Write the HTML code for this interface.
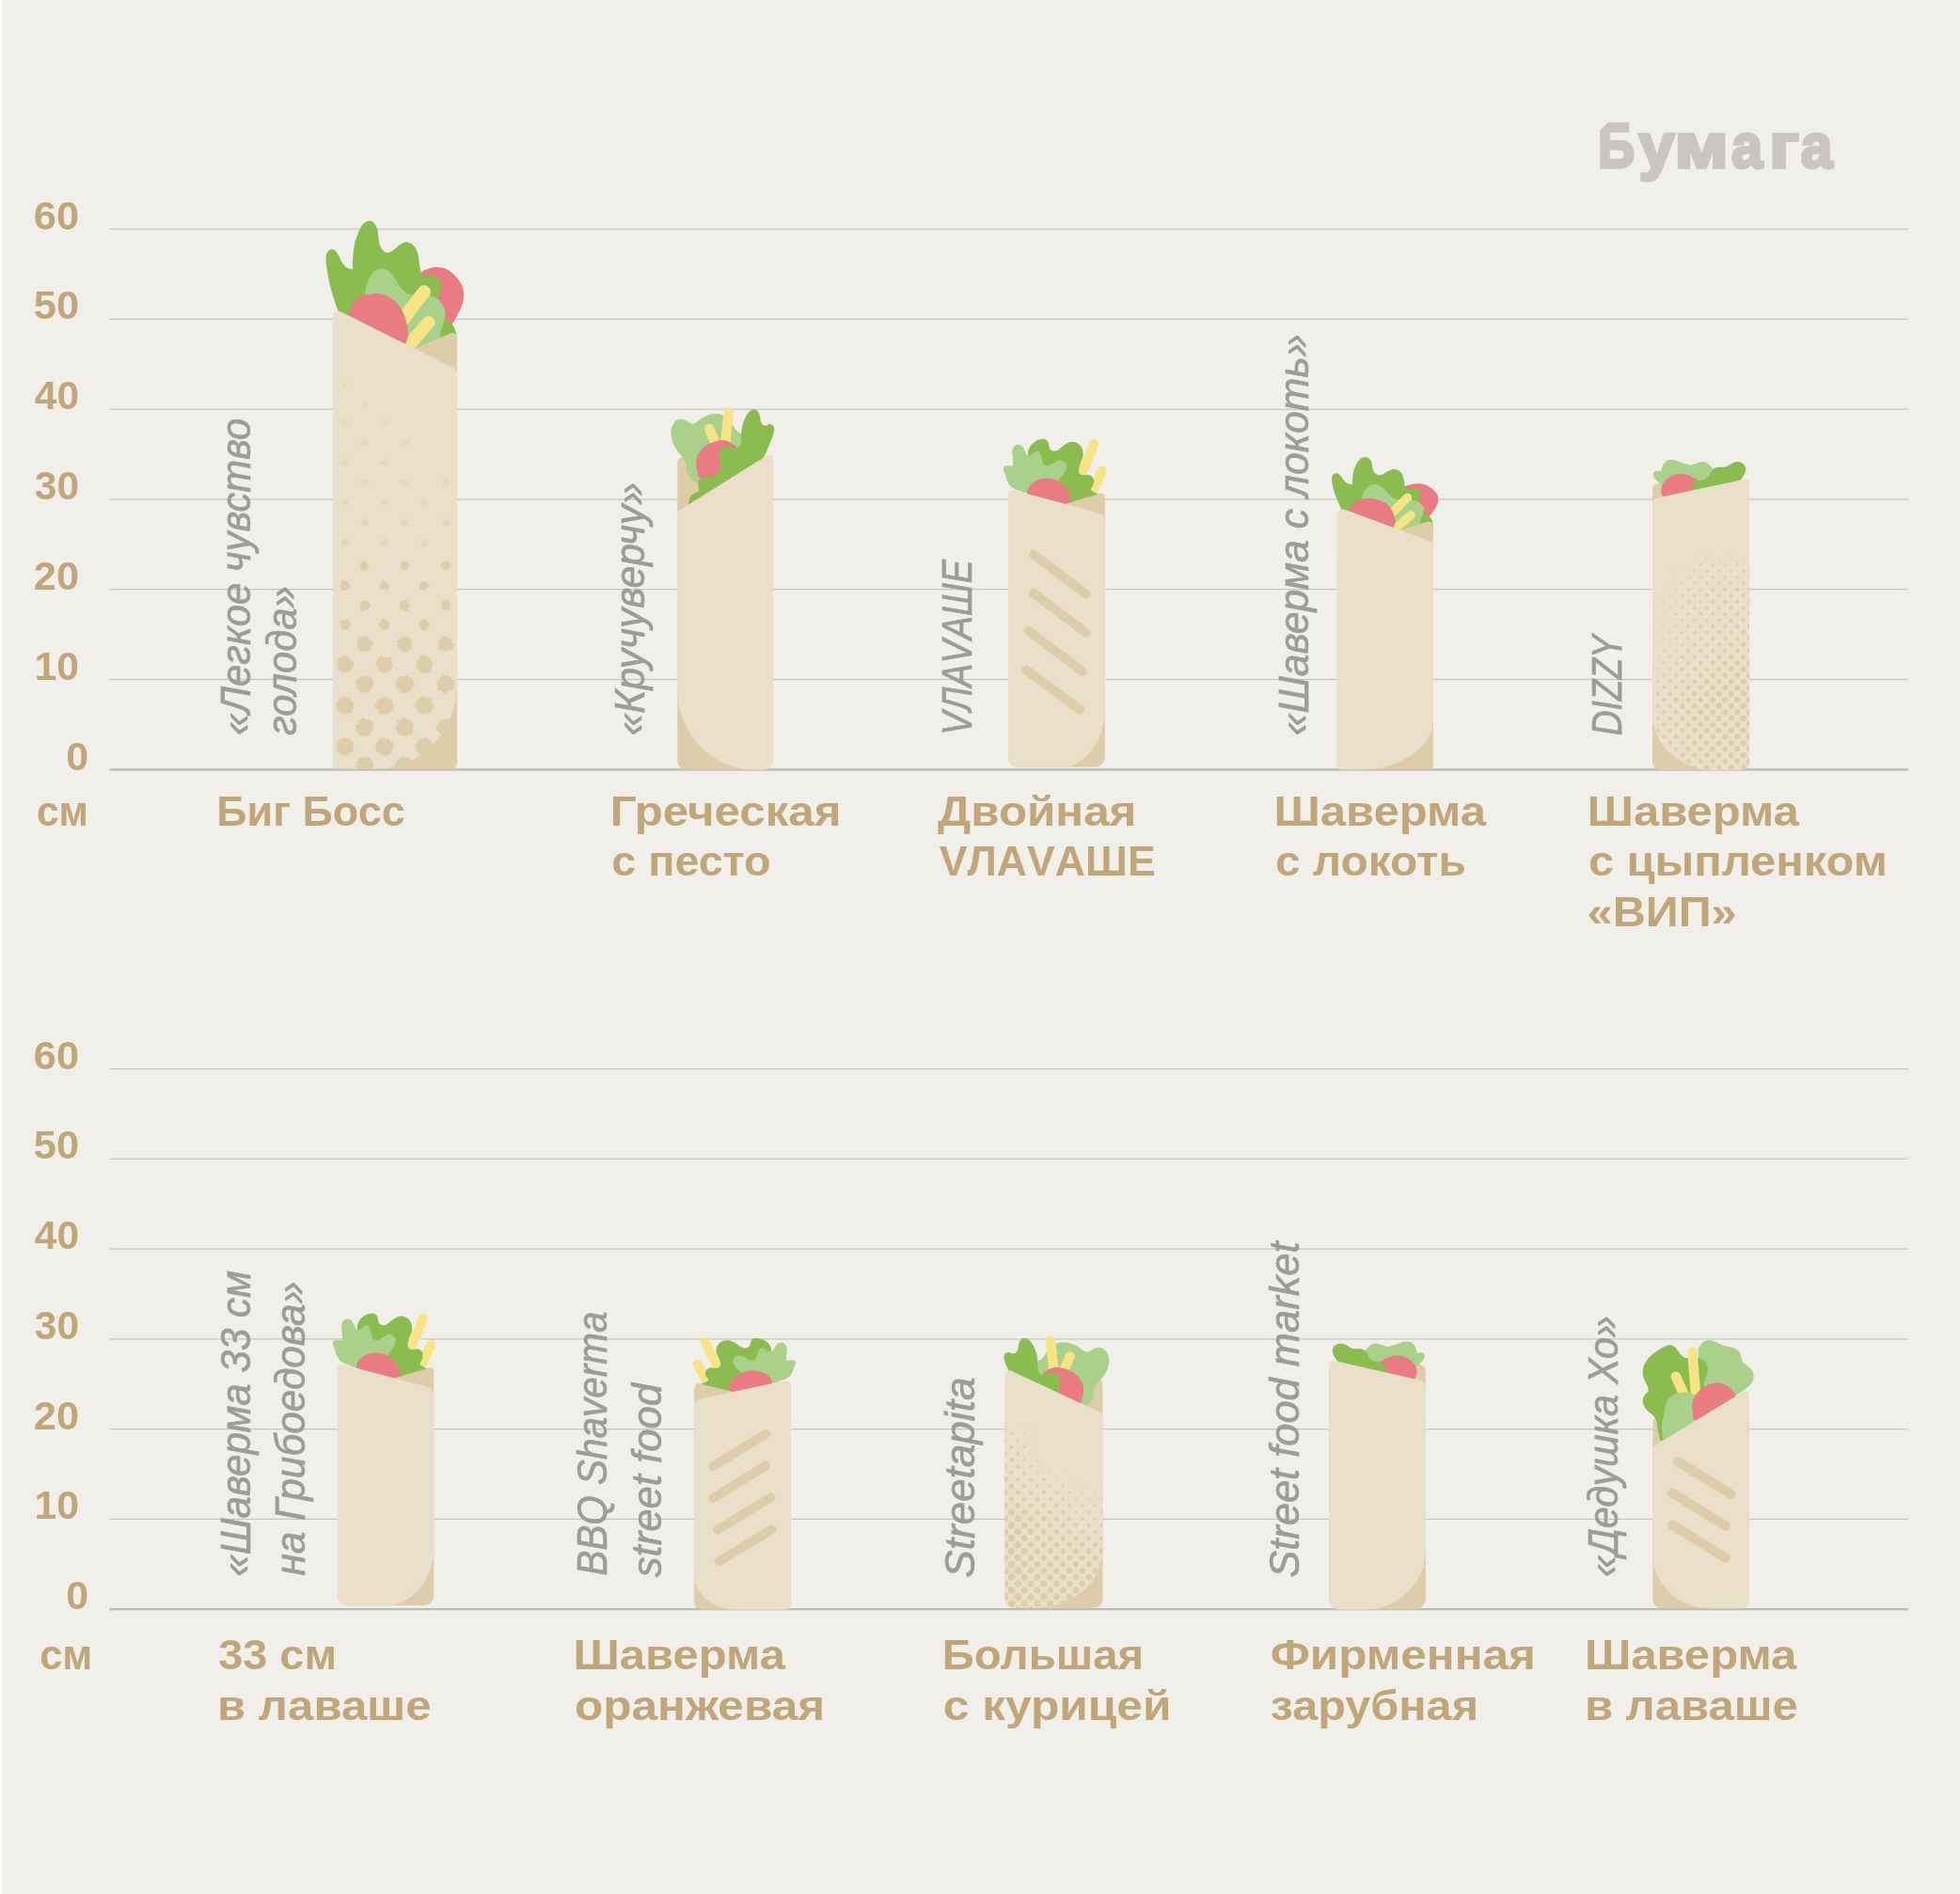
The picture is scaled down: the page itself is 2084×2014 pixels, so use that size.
<!DOCTYPE html>
<html><head><meta charset="utf-8"><title>Шаверма</title>
<style>html,body{margin:0;padding:0;background:#f1efea}body{width:2084px;height:2014px;position:relative;overflow:hidden;font-family:"Liberation Sans",sans-serif}svg text{font-family:"Liberation Sans",sans-serif}</style>
</head><body>
<svg width="2084" height="2014" viewBox="0 0 2084 2014" style="position:absolute;left:0;top:0">
<defs><filter id="rough" x="-5%" y="-5%" width="110%" height="110%"><feTurbulence type="fractalNoise" baseFrequency="0.35" numOctaves="2" seed="3" result="n"/><feDisplacementMap in="SourceGraphic" in2="n" scale="5" xChannelSelector="R" yChannelSelector="G"/></filter></defs>
<rect x="0" y="0" width="2084" height="2014" fill="#f1efea"/>
<rect x="0" y="0" width="2" height="2014" fill="#ffffff"/>
<rect x="116.6" y="243.00" width="1912.3" height="1.25" fill="#c8c6c1"/>
<rect x="116.6" y="338.78" width="1912.3" height="1.25" fill="#c8c6c1"/>
<rect x="116.6" y="434.56" width="1912.3" height="1.25" fill="#c8c6c1"/>
<rect x="116.6" y="530.34" width="1912.3" height="1.25" fill="#c8c6c1"/>
<rect x="116.6" y="626.12" width="1912.3" height="1.25" fill="#c8c6c1"/>
<rect x="116.6" y="721.90" width="1912.3" height="1.25" fill="#c8c6c1"/>
<rect x="116.6" y="1135.98" width="1912.3" height="1.25" fill="#c8c6c1"/>
<rect x="116.6" y="1231.74" width="1912.3" height="1.25" fill="#c8c6c1"/>
<rect x="116.6" y="1327.50" width="1912.3" height="1.25" fill="#c8c6c1"/>
<rect x="116.6" y="1423.26" width="1912.3" height="1.25" fill="#c8c6c1"/>
<rect x="116.6" y="1519.02" width="1912.3" height="1.25" fill="#c8c6c1"/>
<rect x="116.6" y="1614.78" width="1912.3" height="1.25" fill="#c8c6c1"/>
<rect x="116.6" y="817.2" width="1912.3" height="2.4" fill="#bdbbb6"/>
<rect x="116.6" y="1710" width="1912.3" height="2.3" fill="#bdbbb6"/>
<g>
<path d="M447.8 290.2C449.5 287.1 452.3 287 455.2 286C458 285 461.3 284 464.7 284.1C468 284.2 471.9 284.9 475.2 286.5C478.6 288.2 482.1 291.1 484.7 293.9C487.4 296.7 489.7 300.3 491.1 303.4C492.5 306.6 493.1 309.6 493.2 312.9C493.3 316.3 492.7 320 491.6 323.5C490.5 327 488.7 330.5 486.8 334C485 337.6 483.7 341.4 480.5 344.6C477.3 347.8 472.6 352.7 467.8 353.1C463.1 353.4 455.9 351.3 452 346.7C448.1 342.1 445.8 332.6 444.6 325.6C443.4 318.6 444.1 310.4 444.6 304.5C445.1 298.6 446 293.3 447.8 290.2Z" fill="#e97b82"/><path d="M360.7 334.6C359.1 329.8 357.6 325.7 355.9 320.3C354.2 314.9 352.1 308.5 350.6 302.4C349.2 296.2 347.9 288.3 347.2 283.4C346.6 278.4 346.4 275.5 346.7 272.8C347 270.1 347.9 268.3 349 267C350.1 265.7 351.9 264.8 353.3 264.9C354.7 265 356.1 265.8 357.5 267.5C358.9 269.2 360.4 272.6 361.7 274.9C363 277.2 364.1 279.6 365.4 281.2C366.7 282.9 368 284.1 369.6 284.9C371.2 285.8 373.2 285.9 374.9 286.3C375 282.5 374.8 279.3 375.1 274.9C375.5 270.5 376 264.9 377 260.1C378 255.4 379.7 250.1 381.2 246.4C382.8 242.7 384.6 239.9 386.5 238C388.5 236 390.9 234.9 392.9 234.8C394.8 234.7 396.7 235.8 398.1 237.4C399.5 239 400.6 241.6 401.3 244.3C402 247 402 250.8 402.6 253.8C403.1 256.8 403.5 260 404.5 262.2C405.5 264.5 407.3 266.5 408.7 267.5C410.1 268.6 411.3 268.8 412.9 268.6C414.5 268.3 416.3 267.3 418.2 265.9C420.1 264.6 422.4 262.1 424.5 260.7C426.7 259.2 428.8 257.8 430.9 257.5C433 257.2 435.3 257.8 437.2 259.1C439.1 260.3 441.2 262.4 442.5 264.9C443.8 267.3 444.4 270.4 445.1 273.9C445.8 277.3 446 282.3 446.7 285.5C447.4 288.6 448.3 291.4 449.4 292.9C450.4 294.4 451.7 294.4 453.1 294.4C454.4 294.5 455.9 293.4 457.3 293.1C458.7 292.8 459.9 292.1 461.5 292.7C463.1 293.2 465.5 294.8 466.8 296.6C468.1 298.4 469.2 300.9 469.4 303.4C469.6 306 468.5 309.7 467.8 311.9C467.1 314.1 466.1 315 465.2 316.6C462.6 324.9 463.9 334.7 457.3 341.4C450.7 348.2 437.9 356.4 425.6 357.3C413.3 358.2 394.2 350.5 383.4 346.7C372.5 342.9 368.2 338.6 360.7 334.6Z" fill="#8bbc4f"/><path d="M465.2 358.9C466.1 356.2 466.9 353.5 467.8 350.9C468.8 348.4 469.9 345.3 471 343.5C472.1 341.8 473.3 340.5 474.7 340.4C476.1 340.3 478 341.6 479.5 343C480.9 344.4 482.2 346.6 483.1 348.8C484.1 351 484.9 353.9 485.4 356.2C485.8 358.5 485.7 360.4 485.9 362.6C485.9 366.8 485.9 371 485.9 375.2C478.1 375.2 470.3 375.2 462.6 375.2C463.4 369.8 464.3 364.3 465.2 358.9Z" fill="#8bbc4f"/><path d="M388.6 313.5C388 307.8 389.2 306 390.2 302.4C391.3 298.8 393.1 294.4 395 291.8C396.8 289.2 399.2 287.5 401.3 286.5C403.4 285.5 405.4 285.2 407.6 285.7C409.9 286.2 412.7 287.6 415 289.7C417.3 291.8 419.4 295.3 421.4 298.1C423.3 301 424.9 304.4 426.7 306.6C428.4 308.8 430.2 310.2 431.9 311.3C433.7 312.5 434.7 313.2 437.2 313.5C439.7 313.7 443.4 312.8 446.7 312.9C450.1 313 454.1 313.1 457.3 314C460.4 314.9 463.3 316.3 465.7 318.2C468.1 320.1 470.2 323.1 471.5 325.6C472.9 328.1 473.6 330.3 473.6 333C473.7 335.6 472.8 338.6 472.1 341.4C471.4 344.3 470.2 346.9 469.4 349.9C468.6 352.9 468.8 355.7 467.3 359.4C465.8 363.1 464.9 369.2 460.4 372.1C456 374.9 447.9 377.9 440.4 376.3C432.8 374.7 422.8 369.2 415 362.6C407.3 355.9 398.3 344.3 393.9 336.2C389.5 328 389.3 319.1 388.6 313.5Z" fill="#a9d18a"/><line x1="450.9" y1="310.3" x2="428.8" y2="339.3" stroke="#f7e487" stroke-width="14" stroke-linecap="round" vector-effect="non-scaling-stroke"/><line x1="455.5" y1="343" x2="434" y2="367.8" stroke="#f7e487" stroke-width="14" stroke-linecap="round" vector-effect="non-scaling-stroke"/><path d="M371.2 335.1C371.7 332.6 371.7 330.2 372.8 327.7C373.9 325.2 375.4 322.5 377.6 320.3C379.7 318.1 382.7 315.8 385.5 314.5C388.2 313.2 391.1 312.8 393.9 312.4C396.7 312 399.5 311.7 402.4 312.1C405.2 312.4 408 313.2 410.8 314.5C413.6 315.8 416.8 317.8 419.3 319.8C421.7 321.8 423.8 324.1 425.6 326.7C427.4 329.2 428.7 332.1 429.8 335.1C431 338.1 431.8 341.3 432.5 344.6C433.2 347.9 434.2 351.6 434 355.2C433.9 358.7 432.3 362.2 431.4 365.7C422.4 366.4 412.5 370.1 404.5 367.8C396.5 365.5 388.9 357.5 383.4 352C377.8 346.5 375.3 340.7 371.2 335.1Z" fill="#e97b82"/>
<path d="M354 416Q354 407 362.3 403.5L477.7 355Q486 351.5 486 360.5L486 811.6A6 6 0 0 1 480 817.6L360 817.6A6 6 0 0 1 354 811.6Z" fill="#decdaa"/>
<clipPath id="c1"><path d="M354 339Q354 327 364.7 332.4L482.4 391.4Q486 393.2 486 397.2L486 726.7A85 90.9 0 0 1 401 817.6L360 817.6A6 6 0 0 1 354 811.6Z"/></clipPath>
<path d="M354 339Q354 327 364.7 332.4L482.4 391.4Q486 393.2 486 397.2L486 726.7A85 90.9 0 0 1 401 817.6L360 817.6A6 6 0 0 1 354 811.6Z" fill="#eadfc9"/>
<g clip-path="url(#c1)"><g fill="#decdaa" filter="url(#rough)"><circle cx="366.9" cy="409" r="3.2" opacity="0.3"/><circle cx="387.8" cy="429.4" r="3.3" opacity="0.3"/><circle cx="366.9" cy="449.7" r="3.4" opacity="0.3"/><circle cx="408.7" cy="449.7" r="3.4" opacity="0.3"/><circle cx="387.8" cy="471.3" r="3.5" opacity="0.4"/><circle cx="430.3" cy="471.3" r="3.5" opacity="0.4"/><circle cx="366.9" cy="492.2" r="3.6" opacity="0.4"/><circle cx="408.7" cy="492.2" r="3.6" opacity="0.4"/><circle cx="387.8" cy="513" r="3.7" opacity="0.4"/><circle cx="430.3" cy="513" r="3.7" opacity="0.4"/><circle cx="474" cy="513" r="3.7" opacity="0.4"/><circle cx="366.9" cy="534" r="3.8" opacity="0.4"/><circle cx="408.7" cy="534" r="3.8" opacity="0.4"/><circle cx="451.2" cy="534" r="3.8" opacity="0.4"/><circle cx="387.8" cy="555.5" r="3.9" opacity="0.5"/><circle cx="430.3" cy="555.5" r="3.9" opacity="0.5"/><circle cx="474" cy="555.5" r="3.9" opacity="0.5"/><circle cx="366.9" cy="577.7" r="4" opacity="0.5"/><circle cx="408.7" cy="577.7" r="4" opacity="0.5"/><circle cx="451.2" cy="577.7" r="4" opacity="0.5"/><circle cx="387.8" cy="601.5" r="4.8"/><circle cx="430.3" cy="601.5" r="4.8"/><circle cx="474" cy="601.5" r="4.8"/><circle cx="366.9" cy="622.8" r="5.1"/><circle cx="408.7" cy="622.8" r="5.1"/><circle cx="451.2" cy="622.8" r="5.1"/><circle cx="387.8" cy="643.7" r="5.4"/><circle cx="430.3" cy="643.7" r="5.4"/><circle cx="474" cy="643.7" r="5.4"/><circle cx="366.9" cy="664" r="5.7"/><circle cx="408.7" cy="664" r="5.7"/><circle cx="451.2" cy="664" r="5.7"/><circle cx="387.8" cy="684.9" r="8.4"/><circle cx="430.3" cy="684.9" r="8.4"/><circle cx="474" cy="684.9" r="8.4"/><circle cx="366.9" cy="706.5" r="8.9"/><circle cx="408.7" cy="706.5" r="8.9"/><circle cx="451.2" cy="706.5" r="8.9"/><circle cx="387.8" cy="727.4" r="9.4"/><circle cx="430.3" cy="727.4" r="9.4"/><circle cx="474" cy="727.4" r="9.4"/><circle cx="366.9" cy="750.2" r="9.5"/><circle cx="408.7" cy="750.2" r="9.5"/><circle cx="451.2" cy="750.2" r="9.5"/><circle cx="387.8" cy="773.6" r="9.5"/><circle cx="430.3" cy="773.6" r="9.5"/><circle cx="474" cy="773.6" r="9.5"/><circle cx="366.9" cy="794.6" r="9.5"/><circle cx="408.7" cy="794.6" r="9.5"/><circle cx="451.2" cy="794.6" r="9.5"/><circle cx="387.8" cy="814.2" r="9.5"/><circle cx="430.3" cy="814.2" r="9.5"/><circle cx="474" cy="814.2" r="9.5"/></g></g>
</g>
<path d="M720.2 492Q720.2 486 726.2 486L816.1 486Q822.1 486 822.1 492L822.1 808A10.6 10.6 0 0 1 811.5 818.6L730.8 818.6A10.6 10.6 0 0 1 720.2 808Z" fill="#decdaa"/>
<path d="M742.4 512.9C738.7 512.3 737.4 510.9 735.6 509.5C733.8 508.1 732.4 506.4 731.4 504.5C730.4 502.5 730 499.8 729.7 497.7C729.3 495.6 729.8 493.6 729.3 491.8C728.7 490 727.5 488.4 726.3 486.7C725.1 485 723.6 483.8 722.1 481.7C720.5 479.5 718.4 476.7 717 474.1C715.7 471.4 714.6 468.4 714.1 465.6C713.5 462.8 713.3 459.7 713.6 457.2C714 454.6 715.1 452.2 716.2 450.4C717.3 448.6 719 447.4 720.4 446.6C721.8 445.8 723.2 445.7 724.6 445.8C726 445.8 727.4 446.4 728.9 447C730.3 447.7 731.8 449 733.1 449.6C734.3 450.2 735.2 450.7 736.5 450.6C737.7 450.4 738.8 449.8 740.7 448.7C742.5 447.6 745.2 445.4 747.4 444.1C749.7 442.8 751.9 441.6 754.2 440.9C756.4 440.2 758.8 439.9 760.9 439.8C763.1 439.8 765 440.1 766.9 440.7C768.7 441.3 770.2 442.3 771.9 443.6C773.6 445 775.5 446.9 777 448.7C778.5 450.5 779.5 452.9 780.8 454.6C782.1 456.4 783.4 458.1 784.6 459.3C785.8 460.4 786.8 459.5 788 461.4C789.1 463.3 792.2 464.9 791.4 470.7C790.5 476.4 788.5 489 782.9 496C777.3 503.1 764.3 510.1 757.6 512.9C750.8 515.7 746 513.5 742.4 512.9Z" fill="#a9d18a"/><line x1="754.4" y1="455.9" x2="761.8" y2="474.1" stroke="#f7e487" stroke-width="10.5" stroke-linecap="round" vector-effect="non-scaling-stroke"/><line x1="774.6" y1="438.3" x2="771.2" y2="472.4" stroke="#f7e487" stroke-width="10.5" stroke-linecap="round" vector-effect="non-scaling-stroke"/><path d="M744.9 508.3C740.8 507 742.3 503.5 741.5 501.1C740.7 498.6 740 496.2 740 493.5C740 490.8 740.6 487.6 741.5 485C742.5 482.5 743.9 480.3 745.7 478.3C747.6 476.2 750.1 474.3 752.5 472.8C754.9 471.3 757.6 470.2 760.1 469.4C762.6 468.6 765.3 468.1 767.7 468.1C770.1 468.1 772.5 468.7 774.5 469.4C776.4 470.1 778.1 471.2 779.5 472.4C780.9 473.5 782.3 472.2 782.9 476.2C783.5 480.1 785.7 490.6 782.9 496C780.1 501.4 772.3 506.6 766 508.7C759.7 510.7 749 509.5 744.9 508.3Z" fill="#e97b82"/><path d="M732.2 536.1C732.4 534.6 732.2 533 732.7 531.5C733.1 530 733.8 528.4 734.8 527.3C735.7 526.1 736.9 525.5 738.1 524.7C739.4 524 741.5 523.5 742.4 522.6C743.2 521.8 743.2 521 743.2 519.7C743.2 518.3 742.3 516 742.2 514.6C742.1 513.2 742.3 512.2 742.8 511.2C743.3 510.2 744 509.4 745.3 508.7C746.7 508 748.9 507.4 750.8 507C752.7 506.5 754.9 506.5 756.7 506C758.6 505.4 760.4 504.7 761.8 503.6C763.2 502.5 764.5 500.9 765.2 499.4C765.9 497.8 766 496 766 494.3C766 492.6 765.4 490.9 765.2 489.3C765 487.6 764.7 485.9 764.7 484.2C764.8 482.5 765 480.6 765.6 479.1C766.2 477.6 767.4 476.2 768.5 475.3C769.7 474.5 771.2 474.1 772.8 474.1C774.3 474.1 776.3 474.9 777.8 475.3C779.4 475.8 780.8 476.8 782.1 476.8C783.3 476.8 784.5 476.2 785.4 475.3C786.4 474.4 787.1 473.1 787.6 471.5C788 469.9 787.9 467.6 788 465.6C788.1 463.6 787.9 462.1 788.2 459.7C788.5 457.3 788.9 454.1 789.7 451.2C790.5 448.4 791.8 445.1 793 442.8C794.3 440.5 795.8 438.6 797.3 437.3C798.7 436 800.5 435.2 801.9 435.2C803.3 435.2 804.7 436.2 805.7 437.3C806.7 438.4 807.3 440.2 807.8 442C808.4 443.7 808.4 446.3 808.9 447.9C809.5 449.5 810.3 450.9 811.2 451.7C812.1 452.4 813.4 452.7 814.6 452.5C815.8 452.4 817.2 450.8 818.4 450.8C819.6 450.8 820.9 451.6 821.8 452.5C822.6 453.4 823.2 454.7 823.3 456.3C823.3 457.9 822.9 460 822.2 462.2C821.5 464.5 820.3 467.2 819.2 469.8C818.2 472.5 816.7 476.2 815.8 478.3C815 480.4 814.9 481.1 814.2 482.5C813.5 483.9 812.5 485.3 811.6 486.7C811.6 492.6 823.4 494.5 811.6 504.5C799.8 514.5 753.9 541.4 740.7 546.7C727.4 552 735 539.7 732.2 536.1Z" fill="#8bbc4f"/>
<path d="M720.2 546Q720.2 544 721.9 542.9L813.6 485.5Q822.1 480.2 822.1 490.2L822.1 808A10.6 10.6 0 0 1 811.5 818.6L802.7 818.6A82.5 85.9 0 0 1 720.2 732.7Z" fill="#eadfc9"/>
<line x1="1163.2" y1="472.1" x2="1150.5" y2="503.2" stroke="#f7e487" stroke-width="10" stroke-linecap="round" vector-effect="non-scaling-stroke"/><line x1="1171.6" y1="500.4" x2="1161.9" y2="521.8" stroke="#f7e487" stroke-width="10" stroke-linecap="round" vector-effect="non-scaling-stroke"/><path d="M1167.8 525.6C1162.3 528.5 1156.3 532.3 1151.4 534.5C1146.4 536.6 1144.9 540.1 1137.8 538.7C1130.8 537.3 1116.4 532.3 1109.1 526C1101.8 519.7 1096.6 507.7 1093.9 500.7C1091.2 493.6 1093.1 487.4 1093.1 483.8C1093 480.1 1093 480.4 1093.5 478.7C1094 477 1094.8 475.2 1096 473.6C1097.2 472.1 1099.1 470.5 1100.7 469.4C1102.3 468.4 1104.1 467.7 1105.7 467.3C1107.4 466.9 1109.4 466.5 1110.8 466.9C1112.2 467.3 1113.4 468.6 1114.2 469.8C1115 471.1 1115 473.2 1115.5 474.5C1115.9 475.8 1115.9 477 1116.7 477.9C1117.5 478.7 1118.8 479.4 1120.1 479.6C1121.4 479.7 1122.8 479.5 1124.3 478.7C1125.9 477.9 1127.7 476.2 1129.4 474.9C1131.1 473.7 1132.8 472.1 1134.5 471.3C1136.1 470.4 1137.8 469.9 1139.5 469.8C1141.2 469.7 1143 470 1144.6 470.7C1146.1 471.4 1147.7 472.6 1148.8 474.1C1149.9 475.5 1150.9 477.7 1151.4 479.6C1151.8 481.5 1151.7 483.5 1151.4 485.5C1151 487.4 1149.9 489.6 1149.2 491.4C1148.6 493.2 1147.9 494.8 1147.6 496.5C1147.2 498.1 1146.8 500.1 1147.1 501.5C1147.4 502.9 1148.2 504.1 1149.2 504.7C1150.3 505.4 1152 505.3 1153.5 505.3C1154.9 505.3 1156.7 504.5 1158.1 504.9C1159.5 505.3 1161.1 506.3 1161.9 507.4C1162.8 508.6 1163.2 510.1 1163.2 511.7C1163.2 513.2 1162.5 515.3 1161.9 516.7C1161.3 518.1 1159.7 519 1159.8 520.1C1159.9 521.2 1161 522.1 1162.3 523.1C1163.7 524 1166 524.7 1167.8 525.6Z" fill="#8bbc4f"/><path d="M1092.2 524.3C1086.6 523.6 1086.5 522.8 1083.8 521.8C1081.1 520.8 1078.2 520 1076.2 518.4C1074.1 516.9 1072.7 514.8 1071.5 512.5C1070.3 510.2 1069.8 507.2 1069 504.9C1068.2 502.6 1067 500.5 1066.9 499C1066.8 497.5 1067.3 496.7 1068.2 496C1069 495.4 1070.7 495.3 1072 495.2C1073.2 495.1 1074.9 496.1 1075.8 495.6C1076.6 495.1 1077.1 493.9 1077.2 492.2C1077.3 490.5 1076.7 487.7 1076.6 485.5C1076.5 483.2 1075.9 480.6 1076.4 478.7C1076.8 476.8 1078 475.1 1079.1 474.1C1080.3 473.1 1082 472.7 1083.4 472.8C1084.7 472.9 1086.1 473.8 1087.2 474.9C1088.2 476 1088.9 478.2 1089.7 479.6C1090.5 481 1091 482.5 1091.8 483.4C1092.7 484.2 1093.8 484.8 1094.8 484.6C1095.7 484.5 1096.6 483.3 1097.7 482.5C1098.8 481.7 1100.3 480.3 1101.5 480C1102.7 479.6 1104 479.6 1104.9 480.4C1105.8 481.2 1106.4 483.1 1107 484.6C1107.6 486.2 1107.8 488.1 1108.3 489.7C1108.8 491.2 1109.1 493 1110 493.9C1110.9 494.8 1112.4 495.3 1113.8 495.2C1115.2 495.1 1116.9 494.2 1118.4 493.5C1119.9 492.8 1121.2 491.7 1122.6 491C1124 490.3 1125.5 489.3 1126.9 489.3C1128.3 489.2 1129.9 489.7 1131.1 490.5C1132.2 491.4 1133.4 492.8 1133.8 494.3C1134.1 495.9 1133.8 498.1 1133.2 499.8C1132.6 501.6 1131.4 503.1 1130.2 504.9C1129 506.7 1128.1 507.3 1126 510.8C1123.9 514.3 1123.2 523.8 1117.6 526C1111.9 528.3 1097.9 525 1092.2 524.3Z" fill="#a9d18a"/><path d="M1091.8 524.3C1092.5 522.4 1092.7 520.3 1093.9 518.4C1095.1 516.5 1097 514.4 1099 512.9C1101 511.4 1103.2 510.2 1105.7 509.5C1108.3 508.8 1111.4 508.6 1114.2 508.7C1117 508.8 1120 509.3 1122.6 510.4C1125.3 511.4 1128.1 513.1 1130.2 515C1132.4 516.9 1134.4 519.5 1135.7 521.8C1137.1 524 1137.8 526.4 1138.3 528.5C1138.7 530.7 1138.3 532.5 1138.3 534.5C1131.4 537.3 1124.5 542.9 1117.6 542.9C1110.6 542.9 1100.7 537.6 1096.5 534.5C1092.2 531.4 1093.4 527.7 1091.8 524.3Z" fill="#e97b82"/>
<path d="M1072 561.4Q1072 554.4 1078.7 552.4L1168.1 525Q1174.8 523 1174.8 530L1174.8 805.5A10 10 0 0 1 1164.8 815.5L1082 815.5A10 10 0 0 1 1072 805.5Z" fill="#decdaa"/>
<path d="M1072 526.8Q1072 519.8 1078.8 521.6L1167.1 545.1Q1174.8 547.2 1174.8 555.2L1174.8 754.3A46 61.2 0 0 1 1128.8 815.5L1082 815.5A10 10 0 0 1 1072 805.5Z" fill="#eadfc9"/>
<line x1="1098.9" y1="589.7" x2="1154.8" y2="631.8" stroke="#decdaa" stroke-width="9.8" stroke-linecap="round"/><line x1="1098.9" y1="630.6" x2="1154.8" y2="672.9" stroke="#decdaa" stroke-width="9.8" stroke-linecap="round"/><line x1="1093.6" y1="670.9" x2="1150.5" y2="713.7" stroke="#decdaa" stroke-width="9.8" stroke-linecap="round"/><line x1="1091.3" y1="712.7" x2="1148.4" y2="754.6" stroke="#decdaa" stroke-width="9.8" stroke-linecap="round"/>
<g transform="matrix(0.7735 0 0 0.5720 1147.89 351.64)"><path d="M447.8 290.2C449.5 287.1 452.3 287 455.2 286C458 285 461.3 284 464.7 284.1C468 284.2 471.9 284.9 475.2 286.5C478.6 288.2 482.1 291.1 484.7 293.9C487.4 296.7 489.7 300.3 491.1 303.4C492.5 306.6 493.1 309.6 493.2 312.9C493.3 316.3 492.7 320 491.6 323.5C490.5 327 488.7 330.5 486.8 334C485 337.6 483.7 341.4 480.5 344.6C477.3 347.8 472.6 352.7 467.8 353.1C463.1 353.4 455.9 351.3 452 346.7C448.1 342.1 445.8 332.6 444.6 325.6C443.4 318.6 444.1 310.4 444.6 304.5C445.1 298.6 446 293.3 447.8 290.2Z" fill="#e97b82"/><path d="M360.7 334.6C359.1 329.8 357.6 325.7 355.9 320.3C354.2 314.9 352.1 308.5 350.6 302.4C349.2 296.2 347.9 288.3 347.2 283.4C346.6 278.4 346.4 275.5 346.7 272.8C347 270.1 347.9 268.3 349 267C350.1 265.7 351.9 264.8 353.3 264.9C354.7 265 356.1 265.8 357.5 267.5C358.9 269.2 360.4 272.6 361.7 274.9C363 277.2 364.1 279.6 365.4 281.2C366.7 282.9 368 284.1 369.6 284.9C371.2 285.8 373.2 285.9 374.9 286.3C375 282.5 374.8 279.3 375.1 274.9C375.5 270.5 376 264.9 377 260.1C378 255.4 379.7 250.1 381.2 246.4C382.8 242.7 384.6 239.9 386.5 238C388.5 236 390.9 234.9 392.9 234.8C394.8 234.7 396.7 235.8 398.1 237.4C399.5 239 400.6 241.6 401.3 244.3C402 247 402 250.8 402.6 253.8C403.1 256.8 403.5 260 404.5 262.2C405.5 264.5 407.3 266.5 408.7 267.5C410.1 268.6 411.3 268.8 412.9 268.6C414.5 268.3 416.3 267.3 418.2 265.9C420.1 264.6 422.4 262.1 424.5 260.7C426.7 259.2 428.8 257.8 430.9 257.5C433 257.2 435.3 257.8 437.2 259.1C439.1 260.3 441.2 262.4 442.5 264.9C443.8 267.3 444.4 270.4 445.1 273.9C445.8 277.3 446 282.3 446.7 285.5C447.4 288.6 448.3 291.4 449.4 292.9C450.4 294.4 451.7 294.4 453.1 294.4C454.4 294.5 455.9 293.4 457.3 293.1C458.7 292.8 459.9 292.1 461.5 292.7C463.1 293.2 465.5 294.8 466.8 296.6C468.1 298.4 469.2 300.9 469.4 303.4C469.6 306 468.5 309.7 467.8 311.9C467.1 314.1 466.1 315 465.2 316.6C462.6 324.9 463.9 334.7 457.3 341.4C450.7 348.2 437.9 356.4 425.6 357.3C413.3 358.2 394.2 350.5 383.4 346.7C372.5 342.9 368.2 338.6 360.7 334.6Z" fill="#8bbc4f"/><path d="M465.2 358.9C466.1 356.2 466.9 353.5 467.8 350.9C468.8 348.4 469.9 345.3 471 343.5C472.1 341.8 473.3 340.5 474.7 340.4C476.1 340.3 478 341.6 479.5 343C480.9 344.4 482.2 346.6 483.1 348.8C484.1 351 484.9 353.9 485.4 356.2C485.8 358.5 485.7 360.4 485.9 362.6C485.9 366.8 485.9 371 485.9 375.2C478.1 375.2 470.3 375.2 462.6 375.2C463.4 369.8 464.3 364.3 465.2 358.9Z" fill="#8bbc4f"/><path d="M388.6 313.5C388 307.8 389.2 306 390.2 302.4C391.3 298.8 393.1 294.4 395 291.8C396.8 289.2 399.2 287.5 401.3 286.5C403.4 285.5 405.4 285.2 407.6 285.7C409.9 286.2 412.7 287.6 415 289.7C417.3 291.8 419.4 295.3 421.4 298.1C423.3 301 424.9 304.4 426.7 306.6C428.4 308.8 430.2 310.2 431.9 311.3C433.7 312.5 434.7 313.2 437.2 313.5C439.7 313.7 443.4 312.8 446.7 312.9C450.1 313 454.1 313.1 457.3 314C460.4 314.9 463.3 316.3 465.7 318.2C468.1 320.1 470.2 323.1 471.5 325.6C472.9 328.1 473.6 330.3 473.6 333C473.7 335.6 472.8 338.6 472.1 341.4C471.4 344.3 470.2 346.9 469.4 349.9C468.6 352.9 468.8 355.7 467.3 359.4C465.8 363.1 464.9 369.2 460.4 372.1C456 374.9 447.9 377.9 440.4 376.3C432.8 374.7 422.8 369.2 415 362.6C407.3 355.9 398.3 344.3 393.9 336.2C389.5 328 389.3 319.1 388.6 313.5Z" fill="#a9d18a"/><line x1="450.9" y1="310.3" x2="428.8" y2="339.3" stroke="#f7e487" stroke-width="9.2" stroke-linecap="round" vector-effect="non-scaling-stroke"/><line x1="455.5" y1="343" x2="434" y2="367.8" stroke="#f7e487" stroke-width="9.2" stroke-linecap="round" vector-effect="non-scaling-stroke"/><path d="M371.2 335.1C371.7 332.6 371.7 330.2 372.8 327.7C373.9 325.2 375.4 322.5 377.6 320.3C379.7 318.1 382.7 315.8 385.5 314.5C388.2 313.2 391.1 312.8 393.9 312.4C396.7 312 399.5 311.7 402.4 312.1C405.2 312.4 408 313.2 410.8 314.5C413.6 315.8 416.8 317.8 419.3 319.8C421.7 321.8 423.8 324.1 425.6 326.7C427.4 329.2 428.7 332.1 429.8 335.1C431 338.1 431.8 341.3 432.5 344.6C433.2 347.9 434.2 351.6 434 355.2C433.9 358.7 432.3 362.2 431.4 365.7C422.4 366.4 412.5 370.1 404.5 367.8C396.5 365.5 388.9 357.5 383.4 352C377.8 346.5 375.3 340.7 371.2 335.1Z" fill="#e97b82"/></g>
<path d="M1421.7 591Q1421.7 584 1428.4 582L1517.1 555Q1523.8 553 1523.8 560L1523.8 812.9A5.3 5.3 0 0 1 1518.5 818.2L1427 818.2A5.3 5.3 0 0 1 1421.7 812.9Z" fill="#decdaa"/>
<path d="M1421.7 548.8Q1421.7 538.8 1431.1 542.3L1521 575.4Q1523.8 576.4 1523.8 579.4L1523.8 765.3A76.7 52.9 0 0 1 1447.1 818.2L1427 818.2A5.3 5.3 0 0 1 1421.7 812.9Z" fill="#eadfc9"/>
<path d="M1757 521Q1757 514 1764 514L1852.9 514Q1859.9 514 1859.9 521L1859.9 810.3A8.5 8.5 0 0 1 1851.4 818.8L1765.5 818.8A8.5 8.5 0 0 1 1757 810.3Z" fill="#decdaa"/>
<path d="M1767.2 515.7C1765.6 513.9 1764.3 513.6 1762.9 512.4C1761.6 511.1 1760 509.5 1759.1 508.1C1758.3 506.7 1757.8 505 1757.9 503.9C1757.9 502.8 1758.7 501.9 1759.6 501.4C1760.4 500.9 1761.9 500.8 1762.9 500.8C1764 500.8 1765.3 501.8 1765.9 501.4C1766.5 500.9 1766.3 499.3 1766.7 498C1767.2 496.7 1767.5 495.1 1768.4 493.8C1769.3 492.4 1770.8 490.8 1772.2 490C1773.7 489.2 1775.6 488.9 1777.3 488.9C1779 488.8 1780.5 489.2 1782.4 489.7C1784.2 490.3 1786.3 491.4 1788.3 492.1C1790.2 492.8 1792.5 493.6 1794.2 494C1795.9 494.3 1796.9 494.7 1798.4 494.5C1800 494.3 1801.8 493.3 1803.5 492.8C1805.2 492.2 1806.9 491.5 1808.5 491.2C1810.2 491 1811.8 491.1 1813.2 491.5C1814.6 491.9 1815.9 492.8 1817 493.8C1818.1 494.7 1819.2 496.2 1819.9 497.2C1820.7 498.1 1821.1 497 1821.6 499.3C1822.1 501.5 1826.9 506.7 1822.9 510.7C1818.9 514.7 1806 521.2 1797.6 523.3C1789.1 525.5 1777.3 524.6 1772.2 523.3C1767.2 522.1 1768.7 517.6 1767.2 515.7Z" fill="#a9d18a"/><path d="M1768 527.6C1767.4 526 1766.3 523.8 1766.3 521.7C1766.3 519.5 1766.9 517 1768 514.9C1769.1 512.8 1771.1 510.6 1773.1 509C1775 507.4 1777.4 506 1779.8 505.2C1782.2 504.4 1784.9 504.1 1787.4 504.1C1790 504.1 1792.8 504.5 1795 505.2C1797.3 505.9 1799.3 507.2 1800.9 508.1C1802.6 509.1 1803.9 508.1 1804.7 511.1C1805.6 514.1 1809.3 522.1 1806 525.9C1802.7 529.6 1791 532.6 1784.9 533.5C1778.8 534.3 1772.5 531.9 1769.7 530.9C1766.9 530 1768.6 529.1 1768 527.6Z" fill="#e97b82"/><path d="M1799.3 520.4C1799.4 519.1 1799.3 517.8 1799.7 516.6C1800.1 515.4 1800.9 514.1 1801.8 513.2C1802.7 512.3 1803.9 511.6 1805.2 511.1C1806.4 510.6 1808 510.7 1809.4 510.4C1810.8 510.1 1812.3 510.1 1813.6 509.4C1814.9 508.7 1816 507.4 1817 506C1818 504.7 1818.7 502.7 1819.5 501.4C1820.4 500.1 1821.1 499.2 1822.1 498.4C1823 497.7 1824 497.2 1825.4 496.9C1826.8 496.6 1829 496.8 1830.5 496.7C1832.1 496.7 1833.3 496.9 1834.7 496.5C1836.1 496.1 1837.5 495 1839 494.2C1840.4 493.4 1841.8 492.4 1843.2 491.9C1844.6 491.4 1846 491.1 1847.4 491.1C1848.8 491.1 1850.4 491.4 1851.6 492.1C1852.9 492.8 1854.2 493.9 1855 495.1C1855.8 496.2 1856.3 497.4 1856.3 498.9C1856.3 500.3 1855.6 502.1 1855 503.5C1854.4 504.9 1853.6 506.2 1852.9 507.3C1852.2 508.4 1851.5 509.3 1850.8 510.3C1847.1 514.6 1847.3 520.5 1839.8 523.3C1832.3 526.2 1812.8 528.1 1806 527.6C1799.3 527.1 1801.5 522.8 1799.3 520.4Z" fill="#8bbc4f"/>
<path d="M1757 535.4Q1757 530.4 1761.9 529.4L1853.1 509.9Q1859.9 508.4 1859.9 515.4L1859.9 810.3A8.5 8.5 0 0 1 1851.4 818.8L1822.6 818.8A65.6 59.3 0 0 1 1757 759.5Z" fill="#eadfc9"/>
<clipPath id="c5"><path d="M1757 535.4Q1757 530.4 1761.9 529.4L1853.1 509.9Q1859.9 508.4 1859.9 515.4L1859.9 810.3A8.5 8.5 0 0 1 1851.4 818.8L1822.6 818.8A65.6 59.3 0 0 1 1757 759.5Z"/></clipPath>
<g clip-path="url(#c5)" fill="#decdaa"><circle cx="1808.2" cy="587.7" r="0.68"/><circle cx="1821.2" cy="587.7" r="0.72"/><circle cx="1834.2" cy="587.7" r="0.76"/><circle cx="1847.2" cy="587.7" r="0.80"/><circle cx="1860.1" cy="587.7" r="0.82"/><circle cx="1801.7" cy="594.3" r="0.74"/><circle cx="1814.7" cy="594.3" r="0.97"/><circle cx="1827.7" cy="594.3" r="1.01"/><circle cx="1840.7" cy="594.3" r="1.06"/><circle cx="1853.7" cy="594.3" r="1.10"/><circle cx="1782.3" cy="600.8" r="0.40"/><circle cx="1795.2" cy="600.8" r="0.77"/><circle cx="1808.2" cy="600.8" r="1.15"/><circle cx="1821.2" cy="600.8" r="1.20"/><circle cx="1834.2" cy="600.8" r="1.24"/><circle cx="1847.2" cy="600.8" r="1.29"/><circle cx="1860.1" cy="600.8" r="1.31"/><circle cx="1775.8" cy="607.3" r="0.41"/><circle cx="1788.8" cy="607.3" r="0.80"/><circle cx="1801.7" cy="607.3" r="1.18"/><circle cx="1814.7" cy="607.3" r="1.39"/><circle cx="1827.7" cy="607.3" r="1.43"/><circle cx="1840.7" cy="607.3" r="1.47"/><circle cx="1853.7" cy="607.3" r="1.52"/><circle cx="1782.3" cy="613.8" r="0.78"/><circle cx="1795.2" cy="613.8" r="1.15"/><circle cx="1808.2" cy="613.8" r="1.50"/><circle cx="1821.2" cy="613.8" r="1.56"/><circle cx="1834.2" cy="613.8" r="1.61"/><circle cx="1847.2" cy="613.8" r="1.66"/><circle cx="1860.1" cy="613.8" r="1.69"/><circle cx="1775.8" cy="620.3" r="0.72"/><circle cx="1788.8" cy="620.3" r="1.10"/><circle cx="1801.7" cy="620.3" r="1.43"/><circle cx="1814.7" cy="620.3" r="1.63"/><circle cx="1827.7" cy="620.3" r="1.69"/><circle cx="1840.7" cy="620.3" r="1.76"/><circle cx="1853.7" cy="620.3" r="1.82"/><circle cx="1756.3" cy="626.9" r="0.48"/><circle cx="1769.3" cy="626.9" r="0.68"/><circle cx="1782.3" cy="626.9" r="1.07"/><circle cx="1795.2" cy="626.9" r="1.39"/><circle cx="1808.2" cy="626.9" r="1.69"/><circle cx="1821.2" cy="626.9" r="1.77"/><circle cx="1834.2" cy="626.9" r="1.85"/><circle cx="1847.2" cy="626.9" r="1.92"/><circle cx="1860.1" cy="626.9" r="1.96"/><circle cx="1762.8" cy="633.4" r="0.62"/><circle cx="1775.8" cy="633.4" r="0.99"/><circle cx="1788.8" cy="633.4" r="1.33"/><circle cx="1801.7" cy="633.4" r="1.62"/><circle cx="1814.7" cy="633.4" r="1.81"/><circle cx="1827.7" cy="633.4" r="1.89"/><circle cx="1840.7" cy="633.4" r="1.98"/><circle cx="1853.7" cy="633.4" r="2.07"/><circle cx="1756.3" cy="639.9" r="0.63"/><circle cx="1769.3" cy="639.9" r="0.82"/><circle cx="1782.3" cy="639.9" r="1.20"/><circle cx="1795.2" cy="639.9" r="1.51"/><circle cx="1808.2" cy="639.9" r="1.81"/><circle cx="1821.2" cy="639.9" r="1.89"/><circle cx="1834.2" cy="639.9" r="1.97"/><circle cx="1847.2" cy="639.9" r="2.05"/><circle cx="1860.1" cy="639.9" r="2.10"/><circle cx="1762.8" cy="646.4" r="0.64"/><circle cx="1775.8" cy="646.4" r="1.03"/><circle cx="1788.8" cy="646.4" r="1.39"/><circle cx="1801.7" cy="646.4" r="1.70"/><circle cx="1814.7" cy="646.4" r="1.89"/><circle cx="1827.7" cy="646.4" r="1.97"/><circle cx="1840.7" cy="646.4" r="2.04"/><circle cx="1853.7" cy="646.4" r="2.12"/><circle cx="1756.3" cy="652.9" r="0.66"/><circle cx="1769.3" cy="652.9" r="0.86"/><circle cx="1782.3" cy="652.9" r="1.26"/><circle cx="1795.2" cy="652.9" r="1.58"/><circle cx="1808.2" cy="652.9" r="1.89"/><circle cx="1821.2" cy="652.9" r="1.97"/><circle cx="1834.2" cy="652.9" r="2.04"/><circle cx="1847.2" cy="652.9" r="2.11"/><circle cx="1860.1" cy="652.9" r="2.15"/><circle cx="1762.8" cy="659.5" r="0.67"/><circle cx="1775.8" cy="659.5" r="1.08"/><circle cx="1788.8" cy="659.5" r="1.45"/><circle cx="1801.7" cy="659.5" r="1.77"/><circle cx="1814.7" cy="659.5" r="1.97"/><circle cx="1827.7" cy="659.5" r="2.04"/><circle cx="1840.7" cy="659.5" r="2.11"/><circle cx="1853.7" cy="659.5" r="2.18"/><circle cx="1756.3" cy="666" r="0.68"/><circle cx="1769.3" cy="666" r="0.89"/><circle cx="1782.3" cy="666" r="1.31"/><circle cx="1795.2" cy="666" r="1.65"/><circle cx="1808.2" cy="666" r="1.97"/><circle cx="1821.2" cy="666" r="2.04"/><circle cx="1834.2" cy="666" r="2.11"/><circle cx="1847.2" cy="666" r="2.17"/><circle cx="1860.1" cy="666" r="2.21"/><circle cx="1762.8" cy="672.5" r="0.71"/><circle cx="1775.8" cy="672.5" r="1.14"/><circle cx="1788.8" cy="672.5" r="1.53"/><circle cx="1801.7" cy="672.5" r="1.86"/><circle cx="1814.7" cy="672.5" r="2.05"/><circle cx="1827.7" cy="672.5" r="2.12"/><circle cx="1840.7" cy="672.5" r="2.18"/><circle cx="1853.7" cy="672.5" r="2.25"/><circle cx="1756.3" cy="679" r="0.73"/><circle cx="1769.3" cy="679" r="0.95"/><circle cx="1782.3" cy="679" r="1.40"/><circle cx="1795.2" cy="679" r="1.74"/><circle cx="1808.2" cy="679" r="2.07"/><circle cx="1821.2" cy="679" r="2.13"/><circle cx="1834.2" cy="679" r="2.20"/><circle cx="1847.2" cy="679" r="2.26"/><circle cx="1860.1" cy="679" r="2.30"/><circle cx="1762.8" cy="685.5" r="0.75"/><circle cx="1775.8" cy="685.5" r="1.21"/><circle cx="1788.8" cy="685.5" r="1.62"/><circle cx="1801.7" cy="685.5" r="1.95"/><circle cx="1814.7" cy="685.5" r="2.15"/><circle cx="1827.7" cy="685.5" r="2.21"/><circle cx="1840.7" cy="685.5" r="2.28"/><circle cx="1853.7" cy="685.5" r="2.34"/><circle cx="1756.3" cy="692.1" r="0.87"/><circle cx="1769.3" cy="692.1" r="1.09"/><circle cx="1782.3" cy="692.1" r="1.52"/><circle cx="1795.2" cy="692.1" r="1.85"/><circle cx="1808.2" cy="692.1" r="2.16"/><circle cx="1821.2" cy="692.1" r="2.25"/><circle cx="1834.2" cy="692.1" r="2.35"/><circle cx="1847.2" cy="692.1" r="2.44"/><circle cx="1860.1" cy="692.1" r="2.49"/><circle cx="1762.8" cy="698.6" r="1.06"/><circle cx="1775.8" cy="698.6" r="1.43"/><circle cx="1788.8" cy="698.6" r="1.77"/><circle cx="1801.7" cy="698.6" r="2.06"/><circle cx="1814.7" cy="698.6" r="2.28"/><circle cx="1827.7" cy="698.6" r="2.41"/><circle cx="1840.7" cy="698.6" r="2.55"/><circle cx="1853.7" cy="698.6" r="2.69"/><circle cx="1756.3" cy="705.1" r="1.24"/><circle cx="1769.3" cy="705.1" r="1.40"/><circle cx="1782.3" cy="705.1" r="1.72"/><circle cx="1795.2" cy="705.1" r="1.99"/><circle cx="1808.2" cy="705.1" r="2.25"/><circle cx="1821.2" cy="705.1" r="2.44"/><circle cx="1834.2" cy="705.1" r="2.62"/><circle cx="1847.2" cy="705.1" r="2.81"/><circle cx="1860.1" cy="705.1" r="2.90"/><circle cx="1762.8" cy="711.6" r="1.41"/><circle cx="1775.8" cy="711.6" r="1.69"/><circle cx="1788.8" cy="711.6" r="1.95"/><circle cx="1801.7" cy="711.6" r="2.20"/><circle cx="1814.7" cy="711.6" r="2.43"/><circle cx="1827.7" cy="711.6" r="2.64"/><circle cx="1840.7" cy="711.6" r="2.85"/><circle cx="1853.7" cy="711.6" r="3.06"/><circle cx="1756.3" cy="718.1" r="1.54"/><circle cx="1769.3" cy="718.1" r="1.67"/><circle cx="1782.3" cy="718.1" r="1.94"/><circle cx="1795.2" cy="718.1" r="2.19"/><circle cx="1808.2" cy="718.1" r="2.43"/><circle cx="1821.2" cy="718.1" r="2.63"/><circle cx="1834.2" cy="718.1" r="2.82"/><circle cx="1847.2" cy="718.1" r="3.02"/><circle cx="1860.1" cy="718.1" r="3.12"/><circle cx="1762.8" cy="724.7" r="1.66"/><circle cx="1775.8" cy="724.7" r="1.92"/><circle cx="1788.8" cy="724.7" r="2.17"/><circle cx="1801.7" cy="724.7" r="2.42"/><circle cx="1814.7" cy="724.7" r="2.63"/><circle cx="1827.7" cy="724.7" r="2.81"/><circle cx="1840.7" cy="724.7" r="2.99"/><circle cx="1853.7" cy="724.7" r="3.17"/><circle cx="1756.3" cy="731.2" r="1.79"/><circle cx="1769.3" cy="731.2" r="1.91"/><circle cx="1782.3" cy="731.2" r="2.16"/><circle cx="1795.2" cy="731.2" r="2.41"/><circle cx="1808.2" cy="731.2" r="2.65"/><circle cx="1821.2" cy="731.2" r="2.82"/><circle cx="1834.2" cy="731.2" r="2.98"/><circle cx="1847.2" cy="731.2" r="3.15"/><circle cx="1860.1" cy="731.2" r="3.23"/><circle cx="1762.8" cy="737.7" r="1.91"/><circle cx="1775.8" cy="737.7" r="2.16"/><circle cx="1788.8" cy="737.7" r="2.40"/><circle cx="1801.7" cy="737.7" r="2.64"/><circle cx="1814.7" cy="737.7" r="2.84"/><circle cx="1827.7" cy="737.7" r="2.99"/><circle cx="1840.7" cy="737.7" r="3.14"/><circle cx="1853.7" cy="737.7" r="3.29"/><circle cx="1756.3" cy="744.2" r="2.04"/><circle cx="1769.3" cy="744.2" r="2.16"/><circle cx="1782.3" cy="744.2" r="2.39"/><circle cx="1795.2" cy="744.2" r="2.63"/><circle cx="1808.2" cy="744.2" r="2.88"/><circle cx="1821.2" cy="744.2" r="3.01"/><circle cx="1834.2" cy="744.2" r="3.14"/><circle cx="1847.2" cy="744.2" r="3.28"/><circle cx="1860.1" cy="744.2" r="3.35"/><circle cx="1762.8" cy="750.7" r="2.06"/><circle cx="1775.8" cy="750.7" r="2.29"/><circle cx="1788.8" cy="750.7" r="2.53"/><circle cx="1801.7" cy="750.7" r="2.77"/><circle cx="1814.7" cy="750.7" r="2.96"/><circle cx="1827.7" cy="750.7" r="3.09"/><circle cx="1840.7" cy="750.7" r="3.22"/><circle cx="1853.7" cy="750.7" r="3.35"/><circle cx="1756.3" cy="757.3" r="2.06"/><circle cx="1769.3" cy="757.3" r="2.18"/><circle cx="1782.3" cy="757.3" r="2.41"/><circle cx="1795.2" cy="757.3" r="2.65"/><circle cx="1808.2" cy="757.3" r="2.89"/><circle cx="1821.2" cy="757.3" r="3.03"/><circle cx="1834.2" cy="757.3" r="3.16"/><circle cx="1847.2" cy="757.3" r="3.29"/><circle cx="1860.1" cy="757.3" r="3.35"/><circle cx="1762.8" cy="763.8" r="2.06"/><circle cx="1775.8" cy="763.8" r="2.29"/><circle cx="1788.8" cy="763.8" r="2.53"/><circle cx="1801.7" cy="763.8" r="2.77"/><circle cx="1814.7" cy="763.8" r="2.96"/><circle cx="1827.7" cy="763.8" r="3.09"/><circle cx="1840.7" cy="763.8" r="3.22"/><circle cx="1853.7" cy="763.8" r="3.35"/><circle cx="1756.3" cy="770.3" r="2.06"/><circle cx="1769.3" cy="770.3" r="2.18"/><circle cx="1782.3" cy="770.3" r="2.41"/><circle cx="1795.2" cy="770.3" r="2.65"/><circle cx="1808.2" cy="770.3" r="2.89"/><circle cx="1821.2" cy="770.3" r="3.03"/><circle cx="1834.2" cy="770.3" r="3.16"/><circle cx="1847.2" cy="770.3" r="3.29"/><circle cx="1860.1" cy="770.3" r="3.35"/><circle cx="1762.8" cy="776.8" r="2.04"/><circle cx="1775.8" cy="776.8" r="2.27"/><circle cx="1788.8" cy="776.8" r="2.50"/><circle cx="1801.7" cy="776.8" r="2.74"/><circle cx="1814.7" cy="776.8" r="2.93"/><circle cx="1827.7" cy="776.8" r="3.06"/><circle cx="1840.7" cy="776.8" r="3.20"/><circle cx="1853.7" cy="776.8" r="3.33"/><circle cx="1756.3" cy="783.3" r="2.01"/><circle cx="1769.3" cy="783.3" r="2.12"/><circle cx="1782.3" cy="783.3" r="2.34"/><circle cx="1795.2" cy="783.3" r="2.57"/><circle cx="1808.2" cy="783.3" r="2.79"/><circle cx="1821.2" cy="783.3" r="2.93"/><circle cx="1834.2" cy="783.3" r="3.07"/><circle cx="1847.2" cy="783.3" r="3.21"/><circle cx="1860.1" cy="783.3" r="3.29"/><circle cx="1762.8" cy="789.9" r="1.97"/><circle cx="1775.8" cy="789.9" r="2.19"/><circle cx="1788.8" cy="789.9" r="2.40"/><circle cx="1801.7" cy="789.9" r="2.62"/><circle cx="1814.7" cy="789.9" r="2.80"/><circle cx="1827.7" cy="789.9" r="2.94"/><circle cx="1840.7" cy="789.9" r="3.09"/><circle cx="1853.7" cy="789.9" r="3.24"/><circle cx="1756.3" cy="796.4" r="1.94"/><circle cx="1769.3" cy="796.4" r="2.04"/><circle cx="1782.3" cy="796.4" r="2.25"/><circle cx="1795.2" cy="796.4" r="2.45"/><circle cx="1808.2" cy="796.4" r="2.65"/><circle cx="1821.2" cy="796.4" r="2.81"/><circle cx="1834.2" cy="796.4" r="2.96"/><circle cx="1847.2" cy="796.4" r="3.11"/><circle cx="1860.1" cy="796.4" r="3.19"/><circle cx="1762.8" cy="802.9" r="1.90"/><circle cx="1775.8" cy="802.9" r="2.10"/><circle cx="1788.8" cy="802.9" r="2.30"/><circle cx="1801.7" cy="802.9" r="2.49"/><circle cx="1814.7" cy="802.9" r="2.66"/><circle cx="1827.7" cy="802.9" r="2.82"/><circle cx="1840.7" cy="802.9" r="2.98"/><circle cx="1853.7" cy="802.9" r="3.14"/><circle cx="1756.3" cy="809.4" r="1.87"/><circle cx="1769.3" cy="809.4" r="1.96"/><circle cx="1782.3" cy="809.4" r="2.16"/><circle cx="1795.2" cy="809.4" r="2.34"/><circle cx="1808.2" cy="809.4" r="2.51"/><circle cx="1821.2" cy="809.4" r="2.68"/><circle cx="1834.2" cy="809.4" r="2.85"/><circle cx="1847.2" cy="809.4" r="3.01"/><circle cx="1860.1" cy="809.4" r="3.10"/><circle cx="1762.8" cy="815.9" r="1.83"/><circle cx="1775.8" cy="815.9" r="2.02"/><circle cx="1788.8" cy="815.9" r="2.20"/><circle cx="1801.7" cy="815.9" r="2.36"/><circle cx="1814.7" cy="815.9" r="2.53"/><circle cx="1827.7" cy="815.9" r="2.70"/><circle cx="1840.7" cy="815.9" r="2.88"/><circle cx="1853.7" cy="815.9" r="3.05"/><circle cx="1756.3" cy="822.5" r="1.83"/><circle cx="1769.3" cy="822.5" r="1.92"/><circle cx="1782.3" cy="822.5" r="2.11"/><circle cx="1795.2" cy="822.5" r="2.27"/><circle cx="1808.2" cy="822.5" r="2.44"/><circle cx="1821.2" cy="822.5" r="2.61"/><circle cx="1834.2" cy="822.5" r="2.79"/><circle cx="1847.2" cy="822.5" r="2.96"/><circle cx="1860.1" cy="822.5" r="3.05"/></g>
<g transform="matrix(0.9961 0 0 1.0000 -708.93 929.70)"><line x1="1163.2" y1="472.1" x2="1150.5" y2="503.2" stroke="#f7e487" stroke-width="10" stroke-linecap="round" vector-effect="non-scaling-stroke"/><line x1="1171.6" y1="500.4" x2="1161.9" y2="521.8" stroke="#f7e487" stroke-width="10" stroke-linecap="round" vector-effect="non-scaling-stroke"/><path d="M1167.8 525.6C1162.3 528.5 1156.3 532.3 1151.4 534.5C1146.4 536.6 1144.9 540.1 1137.8 538.7C1130.8 537.3 1116.4 532.3 1109.1 526C1101.8 519.7 1096.6 507.7 1093.9 500.7C1091.2 493.6 1093.1 487.4 1093.1 483.8C1093 480.1 1093 480.4 1093.5 478.7C1094 477 1094.8 475.2 1096 473.6C1097.2 472.1 1099.1 470.5 1100.7 469.4C1102.3 468.4 1104.1 467.7 1105.7 467.3C1107.4 466.9 1109.4 466.5 1110.8 466.9C1112.2 467.3 1113.4 468.6 1114.2 469.8C1115 471.1 1115 473.2 1115.5 474.5C1115.9 475.8 1115.9 477 1116.7 477.9C1117.5 478.7 1118.8 479.4 1120.1 479.6C1121.4 479.7 1122.8 479.5 1124.3 478.7C1125.9 477.9 1127.7 476.2 1129.4 474.9C1131.1 473.7 1132.8 472.1 1134.5 471.3C1136.1 470.4 1137.8 469.9 1139.5 469.8C1141.2 469.7 1143 470 1144.6 470.7C1146.1 471.4 1147.7 472.6 1148.8 474.1C1149.9 475.5 1150.9 477.7 1151.4 479.6C1151.8 481.5 1151.7 483.5 1151.4 485.5C1151 487.4 1149.9 489.6 1149.2 491.4C1148.6 493.2 1147.9 494.8 1147.6 496.5C1147.2 498.1 1146.8 500.1 1147.1 501.5C1147.4 502.9 1148.2 504.1 1149.2 504.7C1150.3 505.4 1152 505.3 1153.5 505.3C1154.9 505.3 1156.7 504.5 1158.1 504.9C1159.5 505.3 1161.1 506.3 1161.9 507.4C1162.8 508.6 1163.2 510.1 1163.2 511.7C1163.2 513.2 1162.5 515.3 1161.9 516.7C1161.3 518.1 1159.7 519 1159.8 520.1C1159.9 521.2 1161 522.1 1162.3 523.1C1163.7 524 1166 524.7 1167.8 525.6Z" fill="#8bbc4f"/><path d="M1092.2 524.3C1086.6 523.6 1086.5 522.8 1083.8 521.8C1081.1 520.8 1078.2 520 1076.2 518.4C1074.1 516.9 1072.7 514.8 1071.5 512.5C1070.3 510.2 1069.8 507.2 1069 504.9C1068.2 502.6 1067 500.5 1066.9 499C1066.8 497.5 1067.3 496.7 1068.2 496C1069 495.4 1070.7 495.3 1072 495.2C1073.2 495.1 1074.9 496.1 1075.8 495.6C1076.6 495.1 1077.1 493.9 1077.2 492.2C1077.3 490.5 1076.7 487.7 1076.6 485.5C1076.5 483.2 1075.9 480.6 1076.4 478.7C1076.8 476.8 1078 475.1 1079.1 474.1C1080.3 473.1 1082 472.7 1083.4 472.8C1084.7 472.9 1086.1 473.8 1087.2 474.9C1088.2 476 1088.9 478.2 1089.7 479.6C1090.5 481 1091 482.5 1091.8 483.4C1092.7 484.2 1093.8 484.8 1094.8 484.6C1095.7 484.5 1096.6 483.3 1097.7 482.5C1098.8 481.7 1100.3 480.3 1101.5 480C1102.7 479.6 1104 479.6 1104.9 480.4C1105.8 481.2 1106.4 483.1 1107 484.6C1107.6 486.2 1107.8 488.1 1108.3 489.7C1108.8 491.2 1109.1 493 1110 493.9C1110.9 494.8 1112.4 495.3 1113.8 495.2C1115.2 495.1 1116.9 494.2 1118.4 493.5C1119.9 492.8 1121.2 491.7 1122.6 491C1124 490.3 1125.5 489.3 1126.9 489.3C1128.3 489.2 1129.9 489.7 1131.1 490.5C1132.2 491.4 1133.4 492.8 1133.8 494.3C1134.1 495.9 1133.8 498.1 1133.2 499.8C1132.6 501.6 1131.4 503.1 1130.2 504.9C1129 506.7 1128.1 507.3 1126 510.8C1123.9 514.3 1123.2 523.8 1117.6 526C1111.9 528.3 1097.9 525 1092.2 524.3Z" fill="#a9d18a"/><path d="M1091.8 524.3C1092.5 522.4 1092.7 520.3 1093.9 518.4C1095.1 516.5 1097 514.4 1099 512.9C1101 511.4 1103.2 510.2 1105.7 509.5C1108.3 508.8 1111.4 508.6 1114.2 508.7C1117 508.8 1120 509.3 1122.6 510.4C1125.3 511.4 1128.1 513.1 1130.2 515C1132.4 516.9 1134.4 519.5 1135.7 521.8C1137.1 524 1137.8 526.4 1138.3 528.5C1138.7 530.7 1138.3 532.5 1138.3 534.5C1131.4 537.3 1124.5 542.9 1117.6 542.9C1110.6 542.9 1100.7 537.6 1096.5 534.5C1092.2 531.4 1093.4 527.7 1091.8 524.3Z" fill="#e97b82"/></g>
<path d="M358.9 1491Q358.9 1484 365.6 1482L454.6 1454.8Q461.3 1452.8 461.3 1459.8L461.3 1696.2A11 11 0 0 1 450.3 1707.2L369.9 1707.2A11 11 0 0 1 358.9 1696.2Z" fill="#decdaa"/>
<path d="M358.9 1456.5Q358.9 1449.5 365.7 1451.3L453.6 1474.6Q461.3 1476.6 461.3 1484.6L461.3 1644.5A50.2 62.7 0 0 1 411.1 1707.2L369.9 1707.2A11 11 0 0 1 358.9 1696.2Z" fill="#eadfc9"/>
<g transform="matrix(-0.9990 0 0 0.8300 1911.96 1035.34)"><line x1="1163.2" y1="472.1" x2="1150.5" y2="503.2" stroke="#f7e487" stroke-width="10" stroke-linecap="round" vector-effect="non-scaling-stroke"/><line x1="1171.6" y1="500.4" x2="1161.9" y2="521.8" stroke="#f7e487" stroke-width="10" stroke-linecap="round" vector-effect="non-scaling-stroke"/><path d="M1167.8 525.6C1162.3 528.5 1156.3 532.3 1151.4 534.5C1146.4 536.6 1144.9 540.1 1137.8 538.7C1130.8 537.3 1116.4 532.3 1109.1 526C1101.8 519.7 1096.6 507.7 1093.9 500.7C1091.2 493.6 1093.1 487.4 1093.1 483.8C1093 480.1 1093 480.4 1093.5 478.7C1094 477 1094.8 475.2 1096 473.6C1097.2 472.1 1099.1 470.5 1100.7 469.4C1102.3 468.4 1104.1 467.7 1105.7 467.3C1107.4 466.9 1109.4 466.5 1110.8 466.9C1112.2 467.3 1113.4 468.6 1114.2 469.8C1115 471.1 1115 473.2 1115.5 474.5C1115.9 475.8 1115.9 477 1116.7 477.9C1117.5 478.7 1118.8 479.4 1120.1 479.6C1121.4 479.7 1122.8 479.5 1124.3 478.7C1125.9 477.9 1127.7 476.2 1129.4 474.9C1131.1 473.7 1132.8 472.1 1134.5 471.3C1136.1 470.4 1137.8 469.9 1139.5 469.8C1141.2 469.7 1143 470 1144.6 470.7C1146.1 471.4 1147.7 472.6 1148.8 474.1C1149.9 475.5 1150.9 477.7 1151.4 479.6C1151.8 481.5 1151.7 483.5 1151.4 485.5C1151 487.4 1149.9 489.6 1149.2 491.4C1148.6 493.2 1147.9 494.8 1147.6 496.5C1147.2 498.1 1146.8 500.1 1147.1 501.5C1147.4 502.9 1148.2 504.1 1149.2 504.7C1150.3 505.4 1152 505.3 1153.5 505.3C1154.9 505.3 1156.7 504.5 1158.1 504.9C1159.5 505.3 1161.1 506.3 1161.9 507.4C1162.8 508.6 1163.2 510.1 1163.2 511.7C1163.2 513.2 1162.5 515.3 1161.9 516.7C1161.3 518.1 1159.7 519 1159.8 520.1C1159.9 521.2 1161 522.1 1162.3 523.1C1163.7 524 1166 524.7 1167.8 525.6Z" fill="#8bbc4f"/><path d="M1092.2 524.3C1086.6 523.6 1086.5 522.8 1083.8 521.8C1081.1 520.8 1078.2 520 1076.2 518.4C1074.1 516.9 1072.7 514.8 1071.5 512.5C1070.3 510.2 1069.8 507.2 1069 504.9C1068.2 502.6 1067 500.5 1066.9 499C1066.8 497.5 1067.3 496.7 1068.2 496C1069 495.4 1070.7 495.3 1072 495.2C1073.2 495.1 1074.9 496.1 1075.8 495.6C1076.6 495.1 1077.1 493.9 1077.2 492.2C1077.3 490.5 1076.7 487.7 1076.6 485.5C1076.5 483.2 1075.9 480.6 1076.4 478.7C1076.8 476.8 1078 475.1 1079.1 474.1C1080.3 473.1 1082 472.7 1083.4 472.8C1084.7 472.9 1086.1 473.8 1087.2 474.9C1088.2 476 1088.9 478.2 1089.7 479.6C1090.5 481 1091 482.5 1091.8 483.4C1092.7 484.2 1093.8 484.8 1094.8 484.6C1095.7 484.5 1096.6 483.3 1097.7 482.5C1098.8 481.7 1100.3 480.3 1101.5 480C1102.7 479.6 1104 479.6 1104.9 480.4C1105.8 481.2 1106.4 483.1 1107 484.6C1107.6 486.2 1107.8 488.1 1108.3 489.7C1108.8 491.2 1109.1 493 1110 493.9C1110.9 494.8 1112.4 495.3 1113.8 495.2C1115.2 495.1 1116.9 494.2 1118.4 493.5C1119.9 492.8 1121.2 491.7 1122.6 491C1124 490.3 1125.5 489.3 1126.9 489.3C1128.3 489.2 1129.9 489.7 1131.1 490.5C1132.2 491.4 1133.4 492.8 1133.8 494.3C1134.1 495.9 1133.8 498.1 1133.2 499.8C1132.6 501.6 1131.4 503.1 1130.2 504.9C1129 506.7 1128.1 507.3 1126 510.8C1123.9 514.3 1123.2 523.8 1117.6 526C1111.9 528.3 1097.9 525 1092.2 524.3Z" fill="#a9d18a"/><path d="M1091.8 524.3C1092.5 522.4 1092.7 520.3 1093.9 518.4C1095.1 516.5 1097 514.4 1099 512.9C1101 511.4 1103.2 510.2 1105.7 509.5C1108.3 508.8 1111.4 508.6 1114.2 508.7C1117 508.8 1120 509.3 1122.6 510.4C1125.3 511.4 1128.1 513.1 1130.2 515C1132.4 516.9 1134.4 519.5 1135.7 521.8C1137.1 524 1137.8 526.4 1138.3 528.5C1138.7 530.7 1138.3 532.5 1138.3 534.5C1131.4 537.3 1124.5 542.9 1117.6 542.9C1110.6 542.9 1100.7 537.6 1096.5 534.5C1092.2 531.4 1093.4 527.7 1091.8 524.3Z" fill="#e97b82"/></g>
<path d="M738.3 1477Q738.3 1470 745.1 1471.7L834.2 1493.3Q841 1495 841 1502L841 1704.6A7 7 0 0 1 834 1711.6L745.3 1711.6A7 7 0 0 1 738.3 1704.6Z" fill="#decdaa"/>
<path d="M738.3 1496Q738.3 1489 745.1 1487.5L834.2 1468.2Q841 1466.7 841 1473.7L841 1704.6A7 7 0 0 1 834 1711.6L781.8 1711.6A43.5 36.3 0 0 1 738.3 1675.3Z" fill="#eadfc9"/>
<line x1="758.1" y1="1559.2" x2="814.1" y2="1524.9" stroke="#decdaa" stroke-width="9.8" stroke-linecap="round"/><line x1="758.1" y1="1593.2" x2="814.1" y2="1558.5" stroke="#decdaa" stroke-width="9.8" stroke-linecap="round"/><line x1="763.1" y1="1626.7" x2="819.4" y2="1592.4" stroke="#decdaa" stroke-width="9.8" stroke-linecap="round"/><line x1="764.7" y1="1660.1" x2="820.7" y2="1626.2" stroke="#decdaa" stroke-width="9.8" stroke-linecap="round"/>
<path d="M1068.6 1473Q1068.6 1466 1075.6 1466L1165.4 1466Q1172.4 1466 1172.4 1473L1172.4 1700.8A9 9 0 0 1 1163.4 1709.8L1077.6 1709.8A9 9 0 0 1 1068.6 1700.8Z" fill="#decdaa"/>
<g transform="matrix(-1.0181 0 0 0.9500 1905.62 1009.40)"><path d="M742.4 512.9C738.7 512.3 737.4 510.9 735.6 509.5C733.8 508.1 732.4 506.4 731.4 504.5C730.4 502.5 730 499.8 729.7 497.7C729.3 495.6 729.8 493.6 729.3 491.8C728.7 490 727.5 488.4 726.3 486.7C725.1 485 723.6 483.8 722.1 481.7C720.5 479.5 718.4 476.7 717 474.1C715.7 471.4 714.6 468.4 714.1 465.6C713.5 462.8 713.3 459.7 713.6 457.2C714 454.6 715.1 452.2 716.2 450.4C717.3 448.6 719 447.4 720.4 446.6C721.8 445.8 723.2 445.7 724.6 445.8C726 445.8 727.4 446.4 728.9 447C730.3 447.7 731.8 449 733.1 449.6C734.3 450.2 735.2 450.7 736.5 450.6C737.7 450.4 738.8 449.8 740.7 448.7C742.5 447.6 745.2 445.4 747.4 444.1C749.7 442.8 751.9 441.6 754.2 440.9C756.4 440.2 758.8 439.9 760.9 439.8C763.1 439.8 765 440.1 766.9 440.7C768.7 441.3 770.2 442.3 771.9 443.6C773.6 445 775.5 446.9 777 448.7C778.5 450.5 779.5 452.9 780.8 454.6C782.1 456.4 783.4 458.1 784.6 459.3C785.8 460.4 786.8 459.5 788 461.4C789.1 463.3 792.2 464.9 791.4 470.7C790.5 476.4 788.5 489 782.9 496C777.3 503.1 764.3 510.1 757.6 512.9C750.8 515.7 746 513.5 742.4 512.9Z" fill="#a9d18a"/><line x1="754.4" y1="455.9" x2="761.8" y2="474.1" stroke="#f7e487" stroke-width="10.5" stroke-linecap="round" vector-effect="non-scaling-stroke"/><line x1="774.6" y1="438.3" x2="771.2" y2="472.4" stroke="#f7e487" stroke-width="10.5" stroke-linecap="round" vector-effect="non-scaling-stroke"/><path d="M744.9 508.3C740.8 507 742.3 503.5 741.5 501.1C740.7 498.6 740 496.2 740 493.5C740 490.8 740.6 487.6 741.5 485C742.5 482.5 743.9 480.3 745.7 478.3C747.6 476.2 750.1 474.3 752.5 472.8C754.9 471.3 757.6 470.2 760.1 469.4C762.6 468.6 765.3 468.1 767.7 468.1C770.1 468.1 772.5 468.7 774.5 469.4C776.4 470.1 778.1 471.2 779.5 472.4C780.9 473.5 782.3 472.2 782.9 476.2C783.5 480.1 785.7 490.6 782.9 496C780.1 501.4 772.3 506.6 766 508.7C759.7 510.7 749 509.5 744.9 508.3Z" fill="#e97b82"/><path d="M732.2 536.1C732.4 534.6 732.2 533 732.7 531.5C733.1 530 733.8 528.4 734.8 527.3C735.7 526.1 736.9 525.5 738.1 524.7C739.4 524 741.5 523.5 742.4 522.6C743.2 521.8 743.2 521 743.2 519.7C743.2 518.3 742.3 516 742.2 514.6C742.1 513.2 742.3 512.2 742.8 511.2C743.3 510.2 744 509.4 745.3 508.7C746.7 508 748.9 507.4 750.8 507C752.7 506.5 754.9 506.5 756.7 506C758.6 505.4 760.4 504.7 761.8 503.6C763.2 502.5 764.5 500.9 765.2 499.4C765.9 497.8 766 496 766 494.3C766 492.6 765.4 490.9 765.2 489.3C765 487.6 764.7 485.9 764.7 484.2C764.8 482.5 765 480.6 765.6 479.1C766.2 477.6 767.4 476.2 768.5 475.3C769.7 474.5 771.2 474.1 772.8 474.1C774.3 474.1 776.3 474.9 777.8 475.3C779.4 475.8 780.8 476.8 782.1 476.8C783.3 476.8 784.5 476.2 785.4 475.3C786.4 474.4 787.1 473.1 787.6 471.5C788 469.9 787.9 467.6 788 465.6C788.1 463.6 787.9 462.1 788.2 459.7C788.5 457.3 788.9 454.1 789.7 451.2C790.5 448.4 791.8 445.1 793 442.8C794.3 440.5 795.8 438.6 797.3 437.3C798.7 436 800.5 435.2 801.9 435.2C803.3 435.2 804.7 436.2 805.7 437.3C806.7 438.4 807.3 440.2 807.8 442C808.4 443.7 808.4 446.3 808.9 447.9C809.5 449.5 810.3 450.9 811.2 451.7C812.1 452.4 813.4 452.7 814.6 452.5C815.8 452.4 817.2 450.8 818.4 450.8C819.6 450.8 820.9 451.6 821.8 452.5C822.6 453.4 823.2 454.7 823.3 456.3C823.3 457.9 822.9 460 822.2 462.2C821.5 464.5 820.3 467.2 819.2 469.8C818.2 472.5 816.7 476.2 815.8 478.3C815 480.4 814.9 481.1 814.2 482.5C813.5 483.9 812.5 485.3 811.6 486.7C811.6 492.6 823.4 494.5 811.6 504.5C799.8 514.5 753.9 541.4 740.7 546.7C727.4 552 735 539.7 732.2 536.1Z" fill="#8bbc4f"/></g>
<path d="M1068.6 1462.7Q1068.6 1454.7 1075.9 1458.1L1170.6 1502.2Q1172.4 1503 1172.4 1505L1172.4 1648.9A73.8 60.9 0 0 1 1098.6 1709.8L1077.6 1709.8A9 9 0 0 1 1068.6 1700.8Z" fill="#eadfc9"/>
<clipPath id="c8"><path d="M1068.6 1462.7Q1068.6 1454.7 1075.9 1458.1L1170.6 1502.2Q1172.4 1503 1172.4 1505L1172.4 1648.9A73.8 60.9 0 0 1 1098.6 1709.8L1077.6 1709.8A9 9 0 0 1 1068.6 1700.8Z"/></clipPath>
<g clip-path="url(#c8)" fill="#decdaa"><circle cx="1068.6" cy="1517.9" r="1.23"/><circle cx="1082.3" cy="1517.9" r="1.02"/><circle cx="1096" cy="1517.9" r="0.60"/><circle cx="1075.5" cy="1524.8" r="1.53"/><circle cx="1089.2" cy="1524.8" r="1.01"/><circle cx="1102.9" cy="1524.8" r="0.49"/><circle cx="1068.6" cy="1531.7" r="1.77"/><circle cx="1082.3" cy="1531.7" r="1.47"/><circle cx="1096" cy="1531.7" r="0.87"/><circle cx="1075.5" cy="1538.7" r="2.01"/><circle cx="1089.2" cy="1538.7" r="1.33"/><circle cx="1102.9" cy="1538.7" r="0.64"/><circle cx="1068.6" cy="1545.6" r="2.16"/><circle cx="1082.3" cy="1545.6" r="1.79"/><circle cx="1096" cy="1545.6" r="1.06"/><circle cx="1075.5" cy="1552.5" r="2.29"/><circle cx="1089.2" cy="1552.5" r="1.52"/><circle cx="1102.9" cy="1552.5" r="0.73"/><circle cx="1068.6" cy="1559.5" r="2.38"/><circle cx="1082.3" cy="1559.5" r="2.05"/><circle cx="1096" cy="1559.5" r="1.39"/><circle cx="1109.8" cy="1559.5" r="0.72"/><circle cx="1075.5" cy="1566.4" r="2.46"/><circle cx="1089.2" cy="1566.4" r="1.95"/><circle cx="1102.9" cy="1566.4" r="1.44"/><circle cx="1116.6" cy="1566.4" r="0.94"/><circle cx="1130.3" cy="1566.4" r="0.63"/><circle cx="1068.6" cy="1573.3" r="2.50"/><circle cx="1082.3" cy="1573.3" r="2.29"/><circle cx="1096" cy="1573.3" r="1.87"/><circle cx="1109.8" cy="1573.3" r="1.44"/><circle cx="1123.4" cy="1573.3" r="1.08"/><circle cx="1137.1" cy="1573.3" r="0.76"/><circle cx="1150.8" cy="1573.3" r="0.43"/><circle cx="1075.5" cy="1580.2" r="2.54"/><circle cx="1089.2" cy="1580.2" r="2.19"/><circle cx="1102.9" cy="1580.2" r="1.85"/><circle cx="1116.6" cy="1580.2" r="1.50"/><circle cx="1130.3" cy="1580.2" r="1.20"/><circle cx="1144" cy="1580.2" r="0.89"/><circle cx="1157.7" cy="1580.2" r="0.58"/><circle cx="1171.4" cy="1580.2" r="0.58"/><circle cx="1068.6" cy="1587.2" r="2.58"/><circle cx="1082.3" cy="1587.2" r="2.44"/><circle cx="1096" cy="1587.2" r="2.18"/><circle cx="1109.8" cy="1587.2" r="1.91"/><circle cx="1123.4" cy="1587.2" r="1.62"/><circle cx="1137.1" cy="1587.2" r="1.33"/><circle cx="1150.8" cy="1587.2" r="1.03"/><circle cx="1164.5" cy="1587.2" r="0.88"/><circle cx="1075.5" cy="1594.1" r="2.64"/><circle cx="1089.2" cy="1594.1" r="2.44"/><circle cx="1102.9" cy="1594.1" r="2.24"/><circle cx="1116.6" cy="1594.1" r="2.03"/><circle cx="1130.3" cy="1594.1" r="1.75"/><circle cx="1144" cy="1594.1" r="1.46"/><circle cx="1157.7" cy="1594.1" r="1.18"/><circle cx="1171.4" cy="1594.1" r="1.18"/><circle cx="1068.6" cy="1601" r="3.01"/><circle cx="1082.3" cy="1601" r="2.87"/><circle cx="1096" cy="1601" r="2.59"/><circle cx="1109.8" cy="1601" r="2.31"/><circle cx="1123.4" cy="1601" r="2.05"/><circle cx="1137.1" cy="1601" r="1.79"/><circle cx="1150.8" cy="1601" r="1.53"/><circle cx="1164.5" cy="1601" r="1.40"/><circle cx="1075.5" cy="1608" r="3.35"/><circle cx="1089.2" cy="1608" r="3.01"/><circle cx="1102.9" cy="1608" r="2.66"/><circle cx="1116.6" cy="1608" r="2.32"/><circle cx="1130.3" cy="1608" r="2.08"/><circle cx="1144" cy="1608" r="1.85"/><circle cx="1157.7" cy="1608" r="1.61"/><circle cx="1171.4" cy="1608" r="1.61"/><circle cx="1068.6" cy="1614.9" r="3.49"/><circle cx="1082.3" cy="1614.9" r="3.32"/><circle cx="1096" cy="1614.9" r="2.97"/><circle cx="1109.8" cy="1614.9" r="2.63"/><circle cx="1123.4" cy="1614.9" r="2.34"/><circle cx="1137.1" cy="1614.9" r="2.10"/><circle cx="1150.8" cy="1614.9" r="1.87"/><circle cx="1164.5" cy="1614.9" r="1.75"/><circle cx="1075.5" cy="1621.8" r="3.63"/><circle cx="1089.2" cy="1621.8" r="3.28"/><circle cx="1102.9" cy="1621.8" r="2.94"/><circle cx="1116.6" cy="1621.8" r="2.60"/><circle cx="1130.3" cy="1621.8" r="2.36"/><circle cx="1144" cy="1621.8" r="2.12"/><circle cx="1157.7" cy="1621.8" r="1.89"/><circle cx="1171.4" cy="1621.8" r="1.89"/><circle cx="1068.6" cy="1628.8" r="3.67"/><circle cx="1082.3" cy="1628.8" r="3.51"/><circle cx="1096" cy="1628.8" r="3.18"/><circle cx="1109.8" cy="1628.8" r="2.86"/><circle cx="1123.4" cy="1628.8" r="2.61"/><circle cx="1137.1" cy="1628.8" r="2.42"/><circle cx="1150.8" cy="1628.8" r="2.24"/><circle cx="1164.5" cy="1628.8" r="2.14"/><circle cx="1075.5" cy="1635.7" r="3.70"/><circle cx="1089.2" cy="1635.7" r="3.41"/><circle cx="1102.9" cy="1635.7" r="3.11"/><circle cx="1116.6" cy="1635.7" r="2.82"/><circle cx="1130.3" cy="1635.7" r="2.68"/><circle cx="1144" cy="1635.7" r="2.54"/><circle cx="1157.7" cy="1635.7" r="2.39"/><circle cx="1171.4" cy="1635.7" r="2.39"/><circle cx="1068.6" cy="1642.6" r="3.74"/><circle cx="1082.3" cy="1642.6" r="3.60"/><circle cx="1096" cy="1642.6" r="3.33"/><circle cx="1109.8" cy="1642.6" r="3.06"/><circle cx="1123.4" cy="1642.6" r="2.89"/><circle cx="1137.1" cy="1642.6" r="2.79"/><circle cx="1150.8" cy="1642.6" r="2.70"/><circle cx="1164.5" cy="1642.6" r="2.65"/><circle cx="1075.5" cy="1649.5" r="3.77"/><circle cx="1089.2" cy="1649.5" r="3.53"/><circle cx="1102.9" cy="1649.5" r="3.28"/><circle cx="1116.6" cy="1649.5" r="3.04"/><circle cx="1130.3" cy="1649.5" r="3.00"/><circle cx="1144" cy="1649.5" r="2.95"/><circle cx="1157.7" cy="1649.5" r="2.90"/><circle cx="1171.4" cy="1649.5" r="2.90"/><circle cx="1068.6" cy="1656.5" r="3.77"/><circle cx="1082.3" cy="1656.5" r="3.66"/><circle cx="1096" cy="1656.5" r="3.44"/><circle cx="1109.8" cy="1656.5" r="3.22"/><circle cx="1123.4" cy="1656.5" r="3.10"/><circle cx="1137.1" cy="1656.5" r="3.06"/><circle cx="1150.8" cy="1656.5" r="3.03"/><circle cx="1164.5" cy="1656.5" r="3.01"/><circle cx="1075.5" cy="1663.4" r="3.77"/><circle cx="1089.2" cy="1663.4" r="3.58"/><circle cx="1102.9" cy="1663.4" r="3.38"/><circle cx="1116.6" cy="1663.4" r="3.19"/><circle cx="1130.3" cy="1663.4" r="3.16"/><circle cx="1144" cy="1663.4" r="3.14"/><circle cx="1157.7" cy="1663.4" r="3.12"/><circle cx="1171.4" cy="1663.4" r="3.12"/><circle cx="1068.6" cy="1670.3" r="3.77"/><circle cx="1082.3" cy="1670.3" r="3.69"/><circle cx="1096" cy="1670.3" r="3.51"/><circle cx="1109.8" cy="1670.3" r="3.34"/><circle cx="1123.4" cy="1670.3" r="3.25"/><circle cx="1137.1" cy="1670.3" r="3.24"/><circle cx="1150.8" cy="1670.3" r="3.23"/><circle cx="1164.5" cy="1670.3" r="3.22"/><circle cx="1075.5" cy="1677.3" r="3.77"/><circle cx="1089.2" cy="1677.3" r="3.62"/><circle cx="1102.9" cy="1677.3" r="3.47"/><circle cx="1116.6" cy="1677.3" r="3.33"/><circle cx="1130.3" cy="1677.3" r="3.33"/><circle cx="1144" cy="1677.3" r="3.33"/><circle cx="1157.7" cy="1677.3" r="3.33"/><circle cx="1171.4" cy="1677.3" r="3.33"/><circle cx="1068.6" cy="1684.2" r="3.77"/><circle cx="1082.3" cy="1684.2" r="3.71"/><circle cx="1096" cy="1684.2" r="3.59"/><circle cx="1109.8" cy="1684.2" r="3.46"/><circle cx="1123.4" cy="1684.2" r="3.39"/><circle cx="1137.1" cy="1684.2" r="3.37"/><circle cx="1150.8" cy="1684.2" r="3.35"/><circle cx="1164.5" cy="1684.2" r="3.34"/><circle cx="1075.5" cy="1691.1" r="3.77"/><circle cx="1089.2" cy="1691.1" r="3.68"/><circle cx="1102.9" cy="1691.1" r="3.58"/><circle cx="1116.6" cy="1691.1" r="3.48"/><circle cx="1130.3" cy="1691.1" r="3.43"/><circle cx="1144" cy="1691.1" r="3.39"/><circle cx="1157.7" cy="1691.1" r="3.34"/><circle cx="1171.4" cy="1691.1" r="3.34"/><circle cx="1068.6" cy="1698.1" r="3.77"/><circle cx="1082.3" cy="1698.1" r="3.74"/><circle cx="1096" cy="1698.1" r="3.66"/><circle cx="1109.8" cy="1698.1" r="3.59"/><circle cx="1123.4" cy="1698.1" r="3.52"/><circle cx="1137.1" cy="1698.1" r="3.45"/><circle cx="1150.8" cy="1698.1" r="3.37"/><circle cx="1164.5" cy="1698.1" r="3.34"/><circle cx="1075.5" cy="1705" r="3.77"/><circle cx="1089.2" cy="1705" r="3.72"/><circle cx="1102.9" cy="1705" r="3.68"/><circle cx="1116.6" cy="1705" r="3.62"/><circle cx="1130.3" cy="1705" r="3.53"/><circle cx="1144" cy="1705" r="3.43"/><circle cx="1157.7" cy="1705" r="3.34"/><circle cx="1171.4" cy="1705" r="3.34"/><circle cx="1068.6" cy="1711.9" r="3.77"/><circle cx="1082.3" cy="1711.9" r="3.75"/><circle cx="1096" cy="1711.9" r="3.70"/><circle cx="1109.8" cy="1711.9" r="3.65"/><circle cx="1123.4" cy="1711.9" r="3.58"/><circle cx="1137.1" cy="1711.9" r="3.48"/><circle cx="1150.8" cy="1711.9" r="3.39"/><circle cx="1164.5" cy="1711.9" r="3.34"/></g>
<path d="M1413.2 1458.7Q1413.2 1450.7 1421.2 1450.7L1507.9 1450.7Q1515.9 1450.7 1515.9 1458.7L1515.9 1699.6A12 12 0 0 1 1503.9 1711.6L1425.2 1711.6A12 12 0 0 1 1413.2 1699.6Z" fill="#decdaa"/>
<g transform="matrix(-0.9981 0 0 1.0000 3269.49 937.50)"><path d="M1767.2 515.7C1765.6 513.9 1764.3 513.6 1762.9 512.4C1761.6 511.1 1760 509.5 1759.1 508.1C1758.3 506.7 1757.8 505 1757.9 503.9C1757.9 502.8 1758.7 501.9 1759.6 501.4C1760.4 500.9 1761.9 500.8 1762.9 500.8C1764 500.8 1765.3 501.8 1765.9 501.4C1766.5 500.9 1766.3 499.3 1766.7 498C1767.2 496.7 1767.5 495.1 1768.4 493.8C1769.3 492.4 1770.8 490.8 1772.2 490C1773.7 489.2 1775.6 488.9 1777.3 488.9C1779 488.8 1780.5 489.2 1782.4 489.7C1784.2 490.3 1786.3 491.4 1788.3 492.1C1790.2 492.8 1792.5 493.6 1794.2 494C1795.9 494.3 1796.9 494.7 1798.4 494.5C1800 494.3 1801.8 493.3 1803.5 492.8C1805.2 492.2 1806.9 491.5 1808.5 491.2C1810.2 491 1811.8 491.1 1813.2 491.5C1814.6 491.9 1815.9 492.8 1817 493.8C1818.1 494.7 1819.2 496.2 1819.9 497.2C1820.7 498.1 1821.1 497 1821.6 499.3C1822.1 501.5 1826.9 506.7 1822.9 510.7C1818.9 514.7 1806 521.2 1797.6 523.3C1789.1 525.5 1777.3 524.6 1772.2 523.3C1767.2 522.1 1768.7 517.6 1767.2 515.7Z" fill="#a9d18a"/><path d="M1768 527.6C1767.4 526 1766.3 523.8 1766.3 521.7C1766.3 519.5 1766.9 517 1768 514.9C1769.1 512.8 1771.1 510.6 1773.1 509C1775 507.4 1777.4 506 1779.8 505.2C1782.2 504.4 1784.9 504.1 1787.4 504.1C1790 504.1 1792.8 504.5 1795 505.2C1797.3 505.9 1799.3 507.2 1800.9 508.1C1802.6 509.1 1803.9 508.1 1804.7 511.1C1805.6 514.1 1809.3 522.1 1806 525.9C1802.7 529.6 1791 532.6 1784.9 533.5C1778.8 534.3 1772.5 531.9 1769.7 530.9C1766.9 530 1768.6 529.1 1768 527.6Z" fill="#e97b82"/><path d="M1799.3 520.4C1799.4 519.1 1799.3 517.8 1799.7 516.6C1800.1 515.4 1800.9 514.1 1801.8 513.2C1802.7 512.3 1803.9 511.6 1805.2 511.1C1806.4 510.6 1808 510.7 1809.4 510.4C1810.8 510.1 1812.3 510.1 1813.6 509.4C1814.9 508.7 1816 507.4 1817 506C1818 504.7 1818.7 502.7 1819.5 501.4C1820.4 500.1 1821.1 499.2 1822.1 498.4C1823 497.7 1824 497.2 1825.4 496.9C1826.8 496.6 1829 496.8 1830.5 496.7C1832.1 496.7 1833.3 496.9 1834.7 496.5C1836.1 496.1 1837.5 495 1839 494.2C1840.4 493.4 1841.8 492.4 1843.2 491.9C1844.6 491.4 1846 491.1 1847.4 491.1C1848.8 491.1 1850.4 491.4 1851.6 492.1C1852.9 492.8 1854.2 493.9 1855 495.1C1855.8 496.2 1856.3 497.4 1856.3 498.9C1856.3 500.3 1855.6 502.1 1855 503.5C1854.4 504.9 1853.6 506.2 1852.9 507.3C1852.2 508.4 1851.5 509.3 1850.8 510.3C1847.1 514.6 1847.3 520.5 1839.8 523.3C1832.3 526.2 1812.8 528.1 1806 527.6C1799.3 527.1 1801.5 522.8 1799.3 520.4Z" fill="#8bbc4f"/></g>
<path d="M1413.2 1452.8Q1413.2 1445.8 1420 1447.3L1509.1 1467.5Q1515.9 1469 1515.9 1476L1515.9 1647.1A64.7 64.5 0 0 1 1451.2 1711.6L1425.2 1711.6A12 12 0 0 1 1413.2 1699.6Z" fill="#eadfc9"/>
<path d="M1757.4 1513.5Q1757.4 1506.5 1764.4 1506.5L1852.7 1506.5Q1859.7 1506.5 1859.7 1513.5L1859.7 1701.3A9 9 0 0 1 1850.7 1710.3L1766.4 1710.3A9 9 0 0 1 1757.4 1701.3Z" fill="#decdaa"/>
<path d="M1805.6 1438C1805.2 1432.3 1806.2 1434.1 1807 1432.3C1807.8 1430.6 1809 1428.8 1810.3 1427.6C1811.7 1426.4 1813.3 1425.5 1815.1 1425.2C1816.8 1424.8 1818.9 1425 1820.8 1425.5C1822.7 1426 1824.4 1427.1 1826.5 1428C1828.5 1428.9 1830.9 1430.2 1833.1 1430.9C1835.3 1431.6 1837.7 1431.8 1839.8 1432.3C1841.8 1432.9 1843.8 1433.3 1845.5 1434.2C1847.1 1435.2 1848.7 1436.4 1849.8 1438C1850.8 1439.6 1851.1 1442 1851.7 1443.7C1852.2 1445.5 1852.1 1447.1 1853.1 1448.5C1854.1 1449.9 1856.2 1450.9 1857.8 1452.3C1859.4 1453.7 1861.5 1455.3 1862.6 1457C1863.7 1458.8 1864.4 1460.7 1864.5 1462.7C1864.6 1464.8 1864 1467.4 1863.1 1469.4C1862.1 1471.4 1860.4 1473 1858.8 1474.6C1857.1 1476.2 1855 1477.6 1853.1 1478.9C1851.2 1480.2 1850.5 1480 1847.4 1482.7C1844.2 1485.4 1839.5 1494.6 1834.1 1495.1C1828.7 1495.5 1819.2 1490.3 1815.1 1485.6C1810.9 1480.8 1810.9 1474.5 1809.4 1466.5C1807.8 1458.6 1805.9 1443.7 1805.6 1438Z" fill="#a9d18a"/><path d="M1767.5 1531.7C1763.8 1532.1 1765.1 1528.6 1764.2 1526.4C1763.3 1524.3 1762.8 1521.4 1762.3 1518.8C1761.8 1516.3 1762.1 1513.4 1761.3 1511.2C1760.6 1509 1759.5 1507.3 1758 1505.5C1756.5 1503.8 1754 1502.5 1752.3 1500.8C1750.7 1499 1749 1497 1748 1495.1C1747.1 1493.2 1746.5 1491.3 1746.6 1489.4C1746.7 1487.5 1747.6 1485.3 1748.5 1483.7C1749.5 1482 1751.8 1481 1752.3 1479.4C1752.9 1477.8 1752.5 1476.1 1751.8 1474.1C1751.2 1472.2 1749.4 1469.9 1748.5 1467.5C1747.6 1465.1 1746.7 1462.5 1746.6 1459.9C1746.5 1457.3 1747.1 1454.3 1748 1451.8C1749 1449.3 1750.5 1446.9 1752.3 1444.7C1754.1 1442.5 1756.8 1440.2 1759 1438.5C1761.2 1436.8 1763.5 1435.4 1765.6 1434.2C1767.8 1433 1769.9 1431.8 1771.8 1431.2C1773.7 1430.5 1775.4 1430.1 1777 1430.4C1778.6 1430.7 1780 1431.7 1781.3 1432.8C1782.6 1433.9 1783.5 1435.6 1784.6 1437.1C1785.7 1438.5 1786.7 1440.2 1788 1441.3C1789.2 1442.5 1790.4 1443.5 1792.2 1443.9C1794.1 1444.3 1796.7 1443.9 1798.9 1443.9C1801.1 1443.9 1803.5 1443.5 1805.6 1443.9C1807.6 1444.4 1809.7 1445.3 1811.3 1446.6C1812.8 1447.8 1814.3 1449.6 1815.1 1451.3C1815.8 1453.1 1816.2 1455.1 1816 1457C1815.8 1458.9 1814.7 1460.8 1814.1 1462.7C1813.5 1464.6 1812.6 1466.7 1812.2 1468.4C1811.8 1470.2 1812.8 1468.8 1811.7 1473.2C1810.6 1477.6 1809.7 1486.7 1805.6 1495.1C1801.4 1503.5 1792.9 1517.5 1786.5 1523.6C1780.2 1529.7 1771.3 1531.2 1767.5 1531.7Z" fill="#8bbc4f"/><line x1="1799.4" y1="1437.5" x2="1803.2" y2="1485.6" stroke="#f7e487" stroke-width="10.5" stroke-linecap="round" vector-effect="non-scaling-stroke"/><line x1="1781.8" y1="1463.7" x2="1791.3" y2="1484.6" stroke="#f7e487" stroke-width="10.5" stroke-linecap="round" vector-effect="non-scaling-stroke"/><path d="M1769.4 1530.7C1766.3 1530.7 1768 1526 1767.5 1523.6C1767.1 1521.1 1766.6 1518.7 1766.8 1516C1766.9 1513.3 1768 1510.1 1768.5 1507.4C1769 1504.7 1769.4 1502.3 1769.9 1499.8C1770.5 1497.3 1770.8 1494.5 1771.8 1492.2C1772.8 1489.9 1774.4 1487.7 1776.1 1486C1777.7 1484.4 1779.7 1483.1 1781.8 1482.2C1783.8 1481.4 1786.2 1481 1788.4 1480.8C1790.7 1480.6 1793 1480.7 1795.1 1481C1797.2 1481.3 1799.3 1482 1800.8 1482.7C1802.3 1483.4 1803.3 1481.4 1804.1 1485.1C1804.9 1488.7 1808.5 1498.1 1805.6 1504.6C1802.6 1511 1792.6 1519.2 1786.5 1523.6C1780.5 1527.9 1772.6 1530.7 1769.4 1530.7Z" fill="#a9d18a"/><path d="M1802.2 1510.7C1799.7 1509.3 1800.4 1506.1 1799.8 1503.6C1799.3 1501.2 1799 1498.5 1799.1 1496C1799.2 1493.5 1799.5 1490.8 1800.3 1488.4C1801.2 1486 1802.5 1483.8 1804.1 1481.7C1805.7 1479.7 1807.7 1477.6 1809.8 1476C1812 1474.5 1814.5 1473.2 1817 1472.2C1819.4 1471.3 1822 1470.7 1824.6 1470.5C1827.1 1470.4 1829.8 1470.7 1832.2 1471.5C1834.5 1472.2 1837 1473.6 1838.8 1475.1C1840.6 1476.6 1842.1 1478.7 1843.1 1480.3C1844.1 1481.9 1846.2 1481.4 1844.7 1484.6C1843.2 1487.8 1839 1495.2 1834.1 1499.8C1829.1 1504.4 1820.4 1510.3 1815.1 1512.2C1809.7 1514 1804.8 1512.2 1802.2 1510.7Z" fill="#e97b82"/>
<path d="M1757.4 1540.3Q1757.4 1538.3 1759.1 1537.3L1851.2 1481.2Q1859.7 1476 1859.7 1486L1859.7 1701.3A9 9 0 0 1 1850.7 1710.3L1817.2 1710.3A59.8 58.5 0 0 1 1757.4 1651.8Z" fill="#eadfc9"/>
<line x1="1783.8" y1="1554.1" x2="1840.2" y2="1588.7" stroke="#decdaa" stroke-width="10.3" stroke-linecap="round"/><line x1="1778.3" y1="1587.7" x2="1834.8" y2="1622.7" stroke="#decdaa" stroke-width="10.3" stroke-linecap="round"/><line x1="1778.3" y1="1621.5" x2="1834.8" y2="1656.7" stroke="#decdaa" stroke-width="10.3" stroke-linecap="round"/>
<g style="will-change:transform">
<text x="35.8" y="243.6" font-size="43" font-weight="bold" fill="#c1a679" textLength="48.3" lengthAdjust="spacingAndGlyphs">60</text>
<text x="35.8" y="339.4" font-size="43" font-weight="bold" fill="#c1a679" textLength="48.3" lengthAdjust="spacingAndGlyphs">50</text>
<text x="36.8" y="435.2" font-size="43" font-weight="bold" fill="#c1a679" textLength="47.3" lengthAdjust="spacingAndGlyphs">40</text>
<text x="36.8" y="531" font-size="43" font-weight="bold" fill="#c1a679" textLength="47.3" lengthAdjust="spacingAndGlyphs">30</text>
<text x="35.8" y="626.8" font-size="43" font-weight="bold" fill="#c1a679" textLength="48.3" lengthAdjust="spacingAndGlyphs">20</text>
<text x="36.5" y="722.6" font-size="43" font-weight="bold" fill="#c1a679" textLength="47.6" lengthAdjust="spacingAndGlyphs">10</text>
<text x="70.2" y="818.6" font-size="43" font-weight="bold" fill="#c1a679" textLength="23.9" lengthAdjust="spacingAndGlyphs">0</text>
<text x="35.8" y="1136.6" font-size="43" font-weight="bold" fill="#c1a679" textLength="48.3" lengthAdjust="spacingAndGlyphs">60</text>
<text x="35.8" y="1232.4" font-size="43" font-weight="bold" fill="#c1a679" textLength="48.3" lengthAdjust="spacingAndGlyphs">50</text>
<text x="36.8" y="1328.1" font-size="43" font-weight="bold" fill="#c1a679" textLength="47.3" lengthAdjust="spacingAndGlyphs">40</text>
<text x="36.8" y="1423.9" font-size="43" font-weight="bold" fill="#c1a679" textLength="47.3" lengthAdjust="spacingAndGlyphs">30</text>
<text x="35.8" y="1519.6" font-size="43" font-weight="bold" fill="#c1a679" textLength="48.3" lengthAdjust="spacingAndGlyphs">20</text>
<text x="36.5" y="1615.4" font-size="43" font-weight="bold" fill="#c1a679" textLength="47.6" lengthAdjust="spacingAndGlyphs">10</text>
<text x="70.2" y="1711.1" font-size="43" font-weight="bold" fill="#c1a679" textLength="23.9" lengthAdjust="spacingAndGlyphs">0</text>
<text x="38.9" y="877.7" font-size="45" font-weight="bold" fill="#c1a679" textLength="55.1" lengthAdjust="spacingAndGlyphs">см</text>
<text x="42.2" y="1774.6" font-size="45" font-weight="bold" fill="#c1a679" textLength="56.1" lengthAdjust="spacingAndGlyphs">см</text>
<text x="230.3" y="877.7" font-size="45" font-weight="bold" fill="#c1a679" textLength="200.4" lengthAdjust="spacingAndGlyphs">Биг Босс</text>
<text x="648.7" y="877.7" font-size="45" font-weight="bold" fill="#c1a679" textLength="245.8" lengthAdjust="spacingAndGlyphs">Греческая</text>
<text x="650.3" y="931.1" font-size="45" font-weight="bold" fill="#c1a679" textLength="169.3" lengthAdjust="spacingAndGlyphs">с песто</text>
<text x="997.1" y="877.7" font-size="45" font-weight="bold" fill="#c1a679" textLength="211.3" lengthAdjust="spacingAndGlyphs">Двойная</text>
<text x="998.8" y="931.1" font-size="45" font-weight="bold" fill="#c1a679" textLength="229.9" lengthAdjust="spacingAndGlyphs">VЛАVАШЕ</text>
<text x="1354.6" y="877.7" font-size="45" font-weight="bold" fill="#c1a679" textLength="225.4" lengthAdjust="spacingAndGlyphs">Шаверма</text>
<text x="1356" y="931.1" font-size="45" font-weight="bold" fill="#c1a679" textLength="202.8" lengthAdjust="spacingAndGlyphs">с локоть</text>
<text x="1687.8" y="877.7" font-size="45" font-weight="bold" fill="#c1a679" textLength="225" lengthAdjust="spacingAndGlyphs">Шаверма</text>
<text x="1688.9" y="931.1" font-size="45" font-weight="bold" fill="#c1a679" textLength="317.9" lengthAdjust="spacingAndGlyphs">с цыпленком</text>
<text x="1687.8" y="984.8" font-size="45" font-weight="bold" fill="#c1a679" textLength="158.7" lengthAdjust="spacingAndGlyphs">«ВИП»</text>
<text x="232.2" y="1775" font-size="45" font-weight="bold" fill="#c1a679" textLength="125.9" lengthAdjust="spacingAndGlyphs">33 см</text>
<text x="231" y="1829.3" font-size="45" font-weight="bold" fill="#c1a679" textLength="227.6" lengthAdjust="spacingAndGlyphs">в лаваше</text>
<text x="609.6" y="1775" font-size="45" font-weight="bold" fill="#c1a679" textLength="225.4" lengthAdjust="spacingAndGlyphs">Шаверма</text>
<text x="611" y="1829.3" font-size="45" font-weight="bold" fill="#c1a679" textLength="266.1" lengthAdjust="spacingAndGlyphs">оранжевая</text>
<text x="1001.8" y="1775" font-size="45" font-weight="bold" fill="#c1a679" textLength="214.4" lengthAdjust="spacingAndGlyphs">Большая</text>
<text x="1002.8" y="1829.3" font-size="45" font-weight="bold" fill="#c1a679" textLength="242.6" lengthAdjust="spacingAndGlyphs">с курицей</text>
<text x="1350.7" y="1775" font-size="45" font-weight="bold" fill="#c1a679" textLength="282.2" lengthAdjust="spacingAndGlyphs">Фирменная</text>
<text x="1350.7" y="1829.3" font-size="45" font-weight="bold" fill="#c1a679" textLength="221.3" lengthAdjust="spacingAndGlyphs">зарубная</text>
<text x="1684.9" y="1775" font-size="45" font-weight="bold" fill="#c1a679" textLength="225.4" lengthAdjust="spacingAndGlyphs">Шаверма</text>
<text x="1684.9" y="1829.3" font-size="45" font-weight="bold" fill="#c1a679" textLength="226.9" lengthAdjust="spacingAndGlyphs">в лаваше</text>
<text transform="translate(265.8 781) rotate(-90)" x="-1" y="0" font-size="44" font-style="italic" fill="#9c9c9a" stroke="#9c9c9a" stroke-width="0.7" textLength="337.4" lengthAdjust="spacingAndGlyphs">«Легкое чувство</text>
<text transform="translate(315.3 782) rotate(-90)" x="0" y="0" font-size="44" font-style="italic" fill="#9c9c9a" stroke="#9c9c9a" stroke-width="0.7" textLength="158.8" lengthAdjust="spacingAndGlyphs">голода»</text>
<text transform="translate(685.3 781.3) rotate(-90)" x="-1" y="0" font-size="44" font-style="italic" fill="#9c9c9a" stroke="#9c9c9a" stroke-width="0.7" textLength="269.2" lengthAdjust="spacingAndGlyphs">«Кручуверчу»</text>
<text transform="translate(1033.1 779.2) rotate(-90)" x="-2.6" y="0" font-size="44" font-style="italic" fill="#9c9c9a" stroke="#9c9c9a" stroke-width="0.7" textLength="186.7" lengthAdjust="spacingAndGlyphs">VЛАVАШЕ</text>
<text transform="translate(1391.1 781.3) rotate(-90)" x="-1" y="0" font-size="44" font-style="italic" fill="#9c9c9a" stroke="#9c9c9a" stroke-width="0.7" textLength="426.7" lengthAdjust="spacingAndGlyphs">«Шаверма с локоть»</text>
<text transform="translate(1724 781.5) rotate(-90)" x="-0.8" y="0" font-size="44" font-style="italic" fill="#9c9c9a" stroke="#9c9c9a" stroke-width="0.7" textLength="107.1" lengthAdjust="spacingAndGlyphs">DIZZY</text>
<text transform="translate(265.7 1675.6) rotate(-90)" x="-1" y="0" font-size="44" font-style="italic" fill="#9c9c9a" stroke="#9c9c9a" stroke-width="0.7" textLength="325.6" lengthAdjust="spacingAndGlyphs">«Шаверма 33 см</text>
<text transform="translate(323.8 1675.6) rotate(-90)" x="0" y="0" font-size="44" font-style="italic" fill="#9c9c9a" stroke="#9c9c9a" stroke-width="0.7" textLength="312.8" lengthAdjust="spacingAndGlyphs">на Грибоедова»</text>
<text transform="translate(644.9 1674.7) rotate(-90)" x="-0.9" y="0" font-size="44" font-style="italic" fill="#9c9c9a" stroke="#9c9c9a" stroke-width="0.7" textLength="281" lengthAdjust="spacingAndGlyphs">BBQ Shaverma</text>
<text transform="translate(702.8 1677.2) rotate(-90)" x="0" y="0" font-size="44" font-style="italic" fill="#9c9c9a" stroke="#9c9c9a" stroke-width="0.7" textLength="206.2" lengthAdjust="spacingAndGlyphs">street food</text>
<text transform="translate(1035.6 1676.7) rotate(-90)" x="-1" y="0" font-size="44" font-style="italic" fill="#9c9c9a" stroke="#9c9c9a" stroke-width="0.7" textLength="213.1" lengthAdjust="spacingAndGlyphs">Streetapita</text>
<text transform="translate(1380.7 1676.8) rotate(-90)" x="-1" y="0" font-size="44" font-style="italic" fill="#9c9c9a" stroke="#9c9c9a" stroke-width="0.7" textLength="357.4" lengthAdjust="spacingAndGlyphs">Street food market</text>
<text transform="translate(1720.3 1676.2) rotate(-90)" x="-0.9" y="0" font-size="44" font-style="italic" fill="#9c9c9a" stroke="#9c9c9a" stroke-width="0.7" textLength="277.9" lengthAdjust="spacingAndGlyphs">«Дедушка Хо»</text>
<text x="1698.9" y="178.1" font-size="66" font-weight="bold" fill="#c9c6c1" stroke="#c9c6c1" stroke-width="3.4" textLength="39" lengthAdjust="spacingAndGlyphs">Б</text>
<text x="1742.5" y="178.1" font-size="66" font-weight="bold" fill="#c9c6c1" stroke="#c9c6c1" stroke-width="3.4" textLength="37.8" lengthAdjust="spacingAndGlyphs">у</text>
<text x="1780.5" y="178.1" font-size="66" font-weight="bold" fill="#c9c6c1" stroke="#c9c6c1" stroke-width="3.4" textLength="57.2" lengthAdjust="spacingAndGlyphs">м</text>
<text x="1841" y="178.1" font-size="66" font-weight="bold" fill="#c9c6c1" stroke="#c9c6c1" stroke-width="3.4" textLength="33.1" lengthAdjust="spacingAndGlyphs">а</text>
<text x="1881.1" y="178.1" font-size="66" font-weight="bold" fill="#c9c6c1" stroke="#c9c6c1" stroke-width="3.4" textLength="31.9" lengthAdjust="spacingAndGlyphs">г</text>
<text x="1914.7" y="178.1" font-size="66" font-weight="bold" fill="#c9c6c1" stroke="#c9c6c1" stroke-width="3.4" textLength="33.6" lengthAdjust="spacingAndGlyphs">а</text>
<path d="M1699 127.5L1712.5 127.5L1699 140.5Z" fill="#f1efea"/>
</g>
</svg>
</body></html>
